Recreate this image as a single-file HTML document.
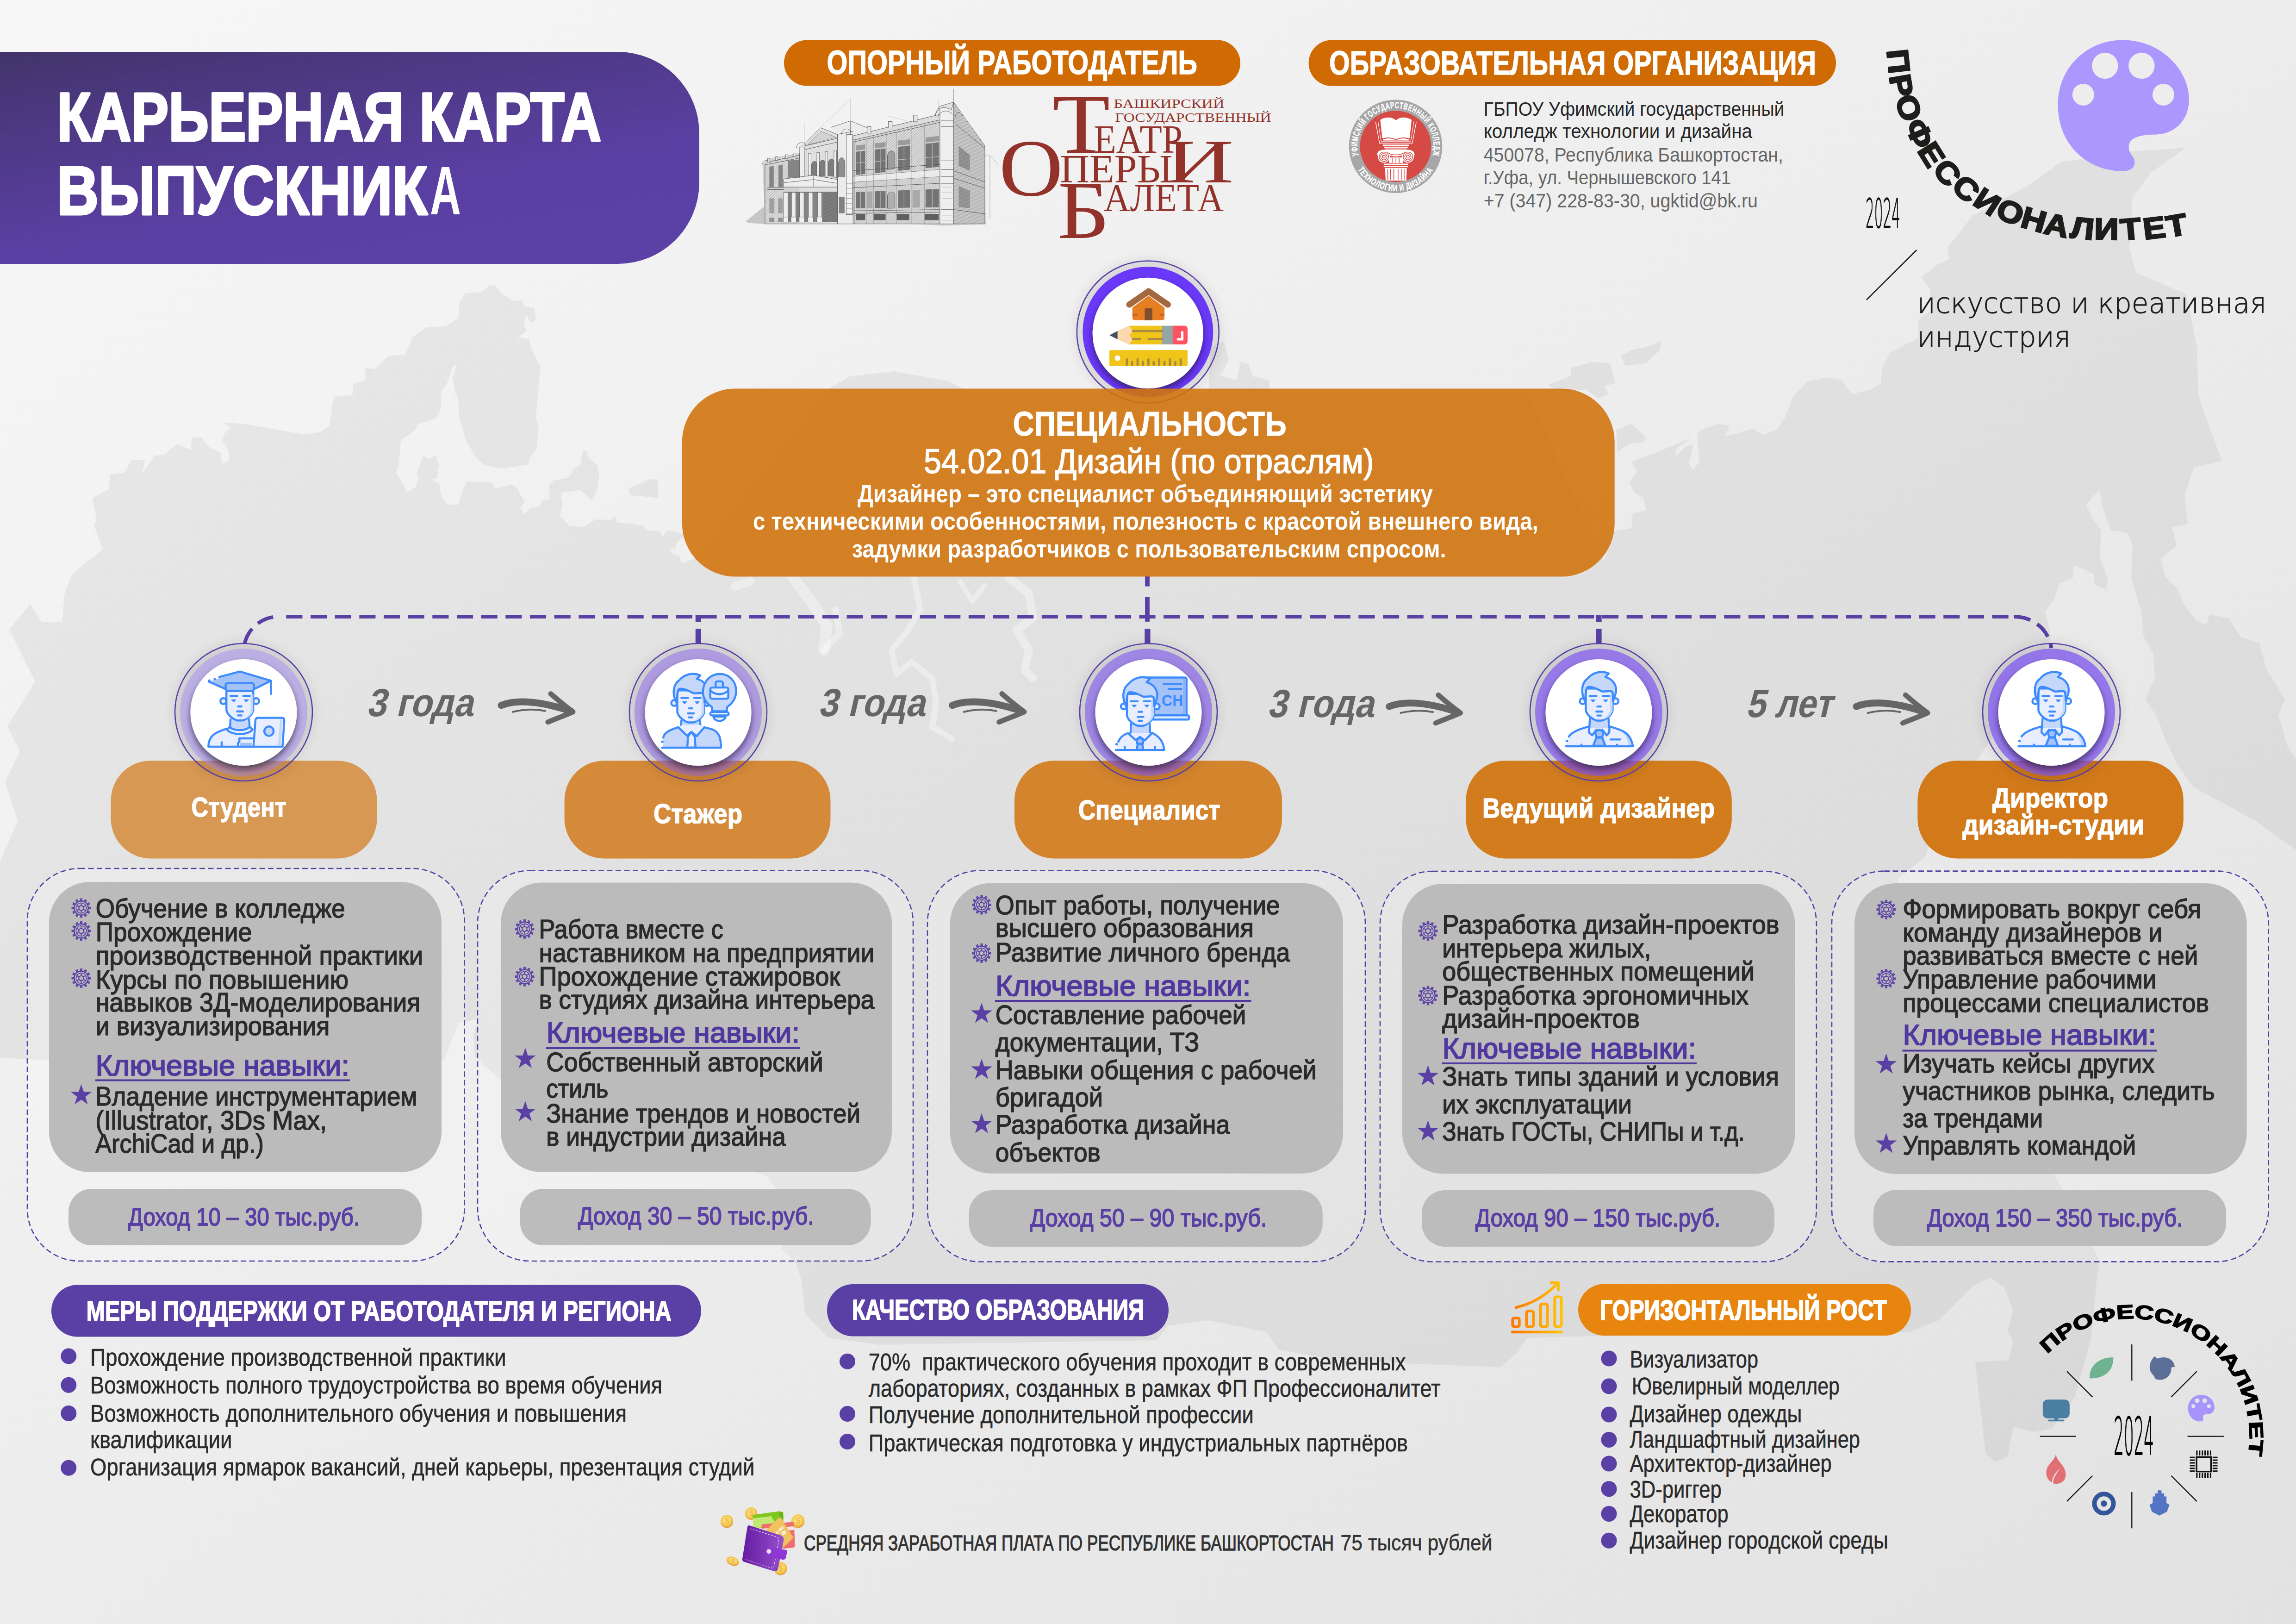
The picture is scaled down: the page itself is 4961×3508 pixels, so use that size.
<!DOCTYPE html>
<html lang="ru"><head><meta charset="utf-8"><title>Карьерная карта выпускника</title>
<style>
html,body{margin:0;padding:0;background:#ececec;}
body{width:4961px;height:3508px;overflow:hidden;}
svg{display:block;font-family:"Liberation Sans", sans-serif;}
text{white-space:pre;}
</style></head><body>
<svg width="4961" height="3508" viewBox="0 0 4961 3508">
<defs>
<linearGradient id="bg" x1="0" y1="0" x2="1" y2="1"><stop offset="0" stop-color="#f7f7f7"/><stop offset="1" stop-color="#e2e2e2"/></linearGradient>
<linearGradient id="ttl" x1="0" y1="0" x2="0.55" y2="1"><stop offset="0" stop-color="#41346a"/><stop offset="0.25" stop-color="#4b3880"/><stop offset="0.7" stop-color="#593fa0"/><stop offset="1" stop-color="#5b40a6"/></linearGradient>
<filter id="sh" x="-30%" y="-30%" width="160%" height="160%"><feDropShadow dx="0" dy="8" stdDeviation="6.5" flood-color="#1a0830" flood-opacity="0.62"/></filter>
<filter id="glow" x="-30%" y="-30%" width="160%" height="160%"><feGaussianBlur stdDeviation="10"/></filter>
</defs>
<rect width="4961" height="3508" fill="url(#bg)"/>
<path d="M0 2285 L0 1861 L38 1774 L11 1688 L43 1623 L16 1569 L76 1472 L20 1360 L65 1305 L91 1344 L134 1344 L140 1279 L157 1239 L189 1213 L222 1187 L203 1135 L209 1122 L199 1076 L235 1057 L238 1024 L268 1021 L284 994 L314 994 L307 1024 L333 985 L356 981 L382 959 L412 972 L415 945 L436 945 L451 965 L477 978 L480 1001 L495 994 L493 972 L480 952 L487 932 L500 925 L483 913 L523 915 L588 926 L653 938 L692 934 L712 919 L719 867 L725 855 L761 854 L764 829 L790 821 L789 794 L810 798 L839 769 L875 766 L892 727 L921 707 L964 705 L990 687 L993 651 L1006 633 L1039 631 L1058 616 L1071 617 L1084 635 L1111 651 L1129 648 L1133 663 L1155 665 L1158 691 L1147 698 L1137 681 L1132 700 L1138 715 L1120 728 L1143 733 L1149 756 L1168 792 L1163 847 L1158 900 L1164 926 L1160 968 L1147 985 L1140 1004 L1084 1012 L1045 1004 L1026 985 L1006 949 L992 900 L990 861 L983 847 L978 818 L986 789 L979 790 L966 828 L954 844 L953 883 L941 905 L902 916 L898 929 L866 951 L862 1004 L856 1021 L872 1047 L879 1063 L898 1053 L905 1030 L900 1024 L915 985 L928 991 L941 983 L949 1004 L944 1034 L931 1036 L949 1045 L955 1076 L967 1090 L990 1090 L1000 1057 L1009 1040 L1062 1042 L1071 1055 L1107 1047 L1120 1057 L1124 1070 L1135 1083 L1124 1097 L1132 1110 L1147 1097 L1166 1094 L1173 1079 L1188 1079 L1186 1047 L1196 1038 L1228 1032 L1241 1011 L1254 1004 L1258 975 L1267 972 L1271 988 L1290 1004 L1295 1027 L1290 1057 L1279 1081 L1254 1058 L1215 1064 L1212 1076 L1216 1090 L1210 1115 L1231 1136 L1261 1138 L1287 1122 L1320 1123 L1329 1114 L1333 1128 L1392 1135 L1395 1145 L1427 1148 L1431 1161 L1441 1145 L1483 1155 L1463 1171 L1460 1184 L1447 1187 L1454 1197 L1467 1199 L1473 1217 L1500 1207 L1793 838 L1836 813 L1933 802 L2052 824 L2100 850 L2612 850 L2615 750 L2645 738 L2655 778 L2637 812 L2672 821 L2680 782 L2698 786 L2706 812 L2741 821 L2745 850 L3300 850 L3466 1213 L3485 1148 L3525 1141 L3528 1109 L3557 1102 L3551 1076 L3531 1063 L3521 1043 L3538 1017 L3525 998 L3577 978 L3623 959 L3655 945 L3623 968 L3619 988 L3642 965 L3659 959 L3649 1004 L3659 1014 L3672 998 L3667 939 L3675 929 L3711 916 L3737 919 L3727 942 L3753 936 L3786 926 L3809 939 L3838 929 L3858 900 L3874 857 L3904 825 L3949 815 L3979 821 L4002 851 L4041 842 L4064 828 L4067 795 L4083 763 L4119 743 L4145 730 L4145 691 L4171 671 L4171 625 L4152 599 L4184 573 L4211 560 L4208 535 L4262 466 L4377 404 L4454 350 L4608 327 L4724 319 L4647 373 L4608 427 L4601 535 L4616 589 L4724 635 L4747 750 L4750 854 L4774 922 L4801 996 L4740 1010 L4720 1071 L4727 1132 L4693 1139 L4703 1179 L4669 1206 L4679 1247 L4706 1274 L4720 1308 L4747 1342 L4767 1349 L4774 1328 L4815 1335 L4842 1376 L4882 1389 L4896 1443 L4937 1511 L4923 1545 L4943 1613 L4961 1640 L4961 1836 L4876 1775 L4815 1741 L4740 1701 L4706 1653 L4679 1599 L4659 1545 L4635 1511 L4656 1464 L4652 1410 L4632 1376 L4625 1315 L4605 1247 L4608 1179 L4598 1152 L4561 1145 L4544 1098 L4537 1057 L4507 1091 L4524 1125 L4540 1145 L4537 1206 L4554 1247 L4551 1274 L4524 1261 L4524 1240 L4480 1220 L4480 1247 L4449 1261 L4439 1294 L4419 1321 L4432 1376 L4400 1450 L4300 1600 L4200 1750 L4160 1850 L4100 1900 L4536 2720 L4529 2780 L4518 2891 L4483 3017 L4434 3085 L4395 3093 L4350 3082 L4338 3147 L4311 3158 L4290 3138 L4279 3042 L4268 2942 L4340 2938 L4350 2898 L4338 2875 L4350 2830 L4330 2780 L4300 2760 L4265 2776 L4189 2852 L4126 2877 L3393 2887 L3299 2890 L3280 2921 L3242 2953 L3052 2946 L2863 2934 L2762 2915 L2737 2877 L2610 2852 L2522 2864 L2500 2895 L1900 2905 L1790 2890 L1740 2839 L1731 2763 L1719 2727 L1690 2698 L1684 2575 L1655 2540 L1400 2450 L1100 2350 L1026 2283 L1023 2230 L1035 2200 L990 2210 L960 2290 L500 2310 L100 2290 Z M1356 1057 L1405 1034 L1421 1037 L1423 1076 L1398 1073 L1365 1070 Z M3502 769 L3525 756 L3570 746 L3590 736 L3587 756 L3557 785 L3512 790 Z M3345 831 L3394 812 L3394 795 L3440 782 L3479 785 L3491 828 L3466 834 L3476 851 L3453 861 L3427 841 L3381 847 L3361 841 Z M3492 929 L3525 916 L3557 945 L3551 955 L3518 959 L3495 978 Z" fill="#000" fill-opacity="0.052" fill-rule="evenodd"/><g fill="none" stroke="#fff" stroke-opacity="0.36" stroke-linecap="round" stroke-linejoin="round"><path d="M1713 1246 L1753 1300 L1787 1352 L1780 1404" stroke-width="24"/><path d="M1780 1404 L1814 1369 L1805 1317" stroke-width="14"/><path d="M1975 1247 L1988 1317 L1962 1361 L1927 1404 L1936 1456 L1970 1430 L2014 1465 L2023 1517 L2014 1570 L2057 1596" stroke-width="13"/><path d="M2179 1247 L2223 1282 L2232 1335 L2197 1361 L2223 1404 L2214 1448 L2232 1465" stroke-width="18"/><path d="M2075 1256 L2101 1300 L2127 1265" stroke-width="11"/><path d="M1587 1267 L1622 1256" stroke-width="18"/></g>
<path d="M0 112 H1335 A176 176 0 0 1 1511 288 V394 A176 176 0 0 1 1335 570 H0 Z" fill="url(#ttl)"/>
<text x="123.0" y="303.6" font-size="148.0" textLength="1176.0" lengthAdjust="spacingAndGlyphs" font-weight="700" fill="#fff" stroke="#fff" stroke-width="5" stroke-linejoin="round">КАРЬЕРНАЯ КАРТА</text>
<text x="123.0" y="463.0" font-size="148.0" textLength="800.5" lengthAdjust="spacingAndGlyphs" font-weight="700" fill="#fff" stroke="#fff" stroke-width="5" stroke-linejoin="round">ВЫПУСКНИК</text>
<text x="929.0" y="463.0" font-size="148.0" textLength="67.0" lengthAdjust="spacingAndGlyphs" font-weight="700" fill="#fff">А</text>
<rect x="1694.0" y="86.6" width="986.0" height="98.8" rx="49.4" fill="#d06a03" />
<text x="1786.6" y="159.8" font-size="73.0" textLength="800.4" lengthAdjust="spacingAndGlyphs" font-weight="700" fill="#fff" stroke="#fff" stroke-width="1.5" stroke-linejoin="round">ОПОРНЫЙ РАБОТОДАТЕЛЬ</text>
<rect x="2827.6" y="86.5" width="1139.4" height="99.3" rx="49.6" fill="#d06a03" />
<text x="2872.0" y="160.5" font-size="73.0" textLength="1052.0" lengthAdjust="spacingAndGlyphs" font-weight="700" fill="#fff" stroke="#fff" stroke-width="1.5" stroke-linejoin="round">ОБРАЗОВАТЕЛЬНАЯ ОРГАНИЗАЦИЯ</text>
<g transform="translate(1580,180) scale(0.27)"><defs><pattern id="hat" width="9" height="9" patternUnits="userSpaceOnUse" patternTransform="rotate(-45)"><rect width="9" height="9" fill="none"/><rect width="9" height="3.2" fill="#555" fill-opacity="0.55"/></pattern><pattern id="hat2" width="7" height="7" patternUnits="userSpaceOnUse" patternTransform="rotate(-50)"><rect width="7" height="3.4" fill="#444" fill-opacity="0.7"/></pattern></defs><polygon points="115,1105 270,980 270,1125 140,1118" fill="#999" fill-opacity="0.5"/><polygon points="1450,1125 1700,1095 2035,1125 1700,1140" fill="#999" fill-opacity="0.35"/><polygon points="250,645 300,600 545,558 545,1125 270,1125" fill="#e6e6e6" /><polygon points="545,500 590,480 715,355 850,408 850,1125 545,1125" fill="#e9e9e9" /><polygon points="800,352 955,300 1085,355 1085,400 975,430 975,1125 850,1125 850,408" fill="#ececec" /><polygon points="975,430 1670,292 1670,1125 975,1125" fill="#e4e4e4" /><polygon points="1670,200 1700,170 1780,150 1780,1125 1670,1125" fill="#efefef" /><polygon points="1780,150 1830,230 2030,500 2035,1125 1780,1125" fill="#d9d9d9" /><polygon points="250,645 300,600 545,558 545,1125 270,1125" fill="url(#hat)" fill-opacity="0.72"/><polygon points="975,430 1670,292 1670,1125 975,1125" fill="url(#hat)" fill-opacity="0.72"/><polygon points="1780,150 1830,230 2030,500 2035,1125 1780,1125" fill="url(#hat2)" fill-opacity="0.5"/><polygon points="545,500 590,480 715,355 850,408 850,1125 545,1125" fill="url(#hat)" fill-opacity="0.35"/><polygon points="975,420 1660,250 1660,292 975,455" fill="#dcdcdc" /><path d="M975 420 L1660 250 M975 455 L1670 292 M975 470 L1670 312" stroke="#4a4a4a" stroke-width="3.2" fill="none" stroke-linejoin="round"/><rect x="1088" y="347" width="30" height="52" fill="#e8e8e8" stroke="#4a4a4a" stroke-width="3"/><rect x="1258" y="305" width="30" height="52" fill="#e8e8e8" stroke="#4a4a4a" stroke-width="3"/><rect x="1458" y="255" width="30" height="52" fill="#e8e8e8" stroke="#4a4a4a" stroke-width="3"/><path d="M1630 262 C1640 200 1700 170 1760 215 L1780 150 L1665 185 Z" fill="#e2e2e2" stroke="#4a4a4a" stroke-width="3"/><path d="M1655 270 C1670 215 1740 205 1770 250" stroke="#4a4a4a" stroke-width="3.2" fill="none" stroke-linejoin="round"/><path d="M1790 280 C1795 230 1830 215 1850 260" stroke="#4a4a4a" stroke-width="3.2" fill="none" stroke-linejoin="round"/><path d="M1780 45 V150" stroke="#555" stroke-width="2"/><path d="M975 700 L1670 648" stroke="#4a4a4a" stroke-width="3.2" fill="none" stroke-linejoin="round"/><path d="M975 745 L1670 690" stroke="#4a4a4a" stroke-width="3.2" fill="none" stroke-linejoin="round"/><path d="M975 790 L1670 745" stroke="#4a4a4a" stroke-width="3.2" fill="none" stroke-linejoin="round"/><path d="M975 835 L1670 800" stroke="#4a4a4a" stroke-width="3.2" fill="none" stroke-linejoin="round"/><path d="M975 1020 L1670 1010" stroke="#4a4a4a" stroke-width="3.2" fill="none" stroke-linejoin="round"/><path d="M975 1040 L1670 1030" stroke="#4a4a4a" stroke-width="3.2" fill="none" stroke-linejoin="round"/><polygon points="975,745 1670,690 1670,745 975,790" fill="#f1f1f1" fill-opacity="0.8"/><polygon points="1000,547.1223021582734 1072,538.8345323741007 1072,725.6489208633094 1000,732.589928057554" fill="#5a5a5a" fill-opacity="0.78"/><polygon points="1000,497.1223021582734 1072,488.8345323741007 1072,528.8345323741007 1000,537.1223021582734" fill="#777" fill-opacity="0.6"/><path d="M1036.0 543 V729 M1000 638 L1072 632" stroke="#ddd" stroke-width="3"/><polygon points="1150,529.8561151079136 1235,520.0719424460432 1235,709.9352517985611 1150,718.1294964028777" fill="#5a5a5a" fill-opacity="0.78"/><polygon points="1150,479.8561151079137 1235,470.0719424460432 1235,510.0719424460432 1150,519.8561151079136" fill="#777" fill-opacity="0.6"/><path d="M1192.5 525 V714 M1150 626 L1235 619" stroke="#ddd" stroke-width="3"/><polygon points="1335,508.5611510791367 1430,497.62589928057554 1430,691.136690647482 1335,700.294964028777" fill="#5a5a5a" fill-opacity="0.78"/><polygon points="1335,458.5611510791367 1430,447.62589928057554 1430,487.62589928057554 1335,498.5611510791367" fill="#777" fill-opacity="0.6"/><path d="M1382.5 503 V696 M1335 612 L1430 604" stroke="#ddd" stroke-width="3"/><polygon points="1555,483.23741007194246 1662,470.9208633093525 1662,668.7712230215827 1555,679.0863309352518" fill="#5a5a5a" fill-opacity="0.78"/><polygon points="1555,433.23741007194246 1662,420.9208633093525 1662,460.9208633093525 1555,473.23741007194246" fill="#777" fill-opacity="0.6"/><path d="M1608.5 477 V674 M1555 594 L1662 586" stroke="#ddd" stroke-width="3"/><path d="M1250 690 V580 C1255 530 1305 525 1310 575 V682 Z" fill="#888" fill-opacity="0.7" stroke="#4a4a4a" stroke-width="3"/><polygon points="1000,869.1007194244604 1072,866.5107913669065 1072,998.8834532374101 1000,999.7122302158274" fill="#555" fill-opacity="0.75"/><path d="M1036.0 868 V999" stroke="#ddd" stroke-width="3"/><polygon points="1150,863.705035971223 1235,860.6474820143885 1235,997.0071942446043 1150,997.9856115107914" fill="#555" fill-opacity="0.75"/><path d="M1192.5 862 V997" stroke="#ddd" stroke-width="3"/><polygon points="1335,857.0503597122303 1430,853.6330935251799 1430,994.7625899280575 1335,995.8561151079136" fill="#555" fill-opacity="0.75"/><path d="M1382.5 855 V995" stroke="#ddd" stroke-width="3"/><polygon points="1555,849.136690647482 1662,845.2877697841726 1662,992.0920863309352 1555,993.3237410071943" fill="#555" fill-opacity="0.75"/><path d="M1608.5 847 V993" stroke="#ddd" stroke-width="3"/><path d="M1250 1000 V900 C1255 860 1305 858 1310 895 V998 Z" fill="#999" fill-opacity="0.6" stroke="#4a4a4a" stroke-width="3"/><polygon points="1085,866.043165467626 1130,864.4244604316547 1130,998.2158273381295 1085,998.7338129496403" fill="#888" fill-opacity="0.55"/><polygon points="1450,852.9136690647482 1510,850.7553956834532 1510,993.841726618705 1450,994.5323741007194" fill="#888" fill-opacity="0.55"/><rect x="1000" y="1045" width="72" height="50" fill="#444" fill-opacity="0.8"/><rect x="1140" y="1045" width="95" height="50" fill="#444" fill-opacity="0.8"/><rect x="1325" y="1045" width="100" height="50" fill="#444" fill-opacity="0.8"/><rect x="1548" y="1045" width="112" height="50" fill="#444" fill-opacity="0.8"/><path d="M985 468 V1125" stroke="#555" stroke-width="2" fill="none"/><path d="M1080 446 V1125" stroke="#555" stroke-width="2" fill="none"/><path d="M1140 432 V1125" stroke="#555" stroke-width="2" fill="none"/><path d="M1240 410 V1125" stroke="#555" stroke-width="2" fill="none"/><path d="M1320 392 V1125" stroke="#555" stroke-width="2" fill="none"/><path d="M1440 364 V1125" stroke="#555" stroke-width="2" fill="none"/><path d="M1545 340 V1125" stroke="#555" stroke-width="2" fill="none"/><path d="M1670 200 V1125 M1780 150 V1125 M1680 300 H1775 M1680 345 H1775 M1680 620 H1778 M1680 690 H1778 M1680 745 H1778 M1680 800 H1778 M1680 1010 H1778" stroke="#4a4a4a" stroke-width="3.2" fill="none" stroke-linejoin="round"/><path d="M1690 830 H1770" stroke="#888" stroke-width="2"/><path d="M1690 875 H1770" stroke="#888" stroke-width="2"/><path d="M1690 920 H1770" stroke="#888" stroke-width="2"/><path d="M1690 965 H1770" stroke="#888" stroke-width="2"/><path d="M1690 1010 H1770" stroke="#888" stroke-width="2"/><path d="M1690 1055 H1770" stroke="#888" stroke-width="2"/><path d="M1690 1100 H1770" stroke="#888" stroke-width="2"/><polygon points="1820,500 1910,575 1910,700 1820,660" fill="#666" fill-opacity="0.55"/><polygon points="1820,820 1910,860 1910,1000 1820,990" fill="#666" fill-opacity="0.5"/><path d="M1780 700 L2032 790 M1780 760 L2032 840 M1780 1010 L2034 1045 M1780 150 L2030 500 V1125 M1800 330 L2030 520" stroke="#4a4a4a" stroke-width="3.2" fill="none" stroke-linejoin="round"/><path d="M2030 580 H2075 L2145 660 M2070 580 V1080" stroke="#777" stroke-width="2" fill="none"/><path d="M800 352 L955 300 L1085 355 M955 300 V420 M850 408 L975 385" stroke="#4a4a4a" stroke-width="3.2" fill="none" stroke-linejoin="round"/><path d="M882 408 C885 355 950 350 958 395" stroke="#4a4a4a" stroke-width="3.2" fill="none" stroke-linejoin="round"/><rect x="920" y="410" width="50" height="640" fill="#f2f2f2" stroke="#4a4a4a" stroke-width="3"/><path d="M858 750 V640 C862 580 905 580 910 640 V750 Z" fill="#666" fill-opacity="0.7" stroke="#4a4a4a" stroke-width="3"/><rect x="862" y="910" width="45" height="130" fill="#555" fill-opacity="0.7"/><path d="M920 800 H970" stroke="#777" stroke-width="2.5"/><path d="M920 840 H970" stroke="#777" stroke-width="2.5"/><path d="M920 880 H970" stroke="#777" stroke-width="2.5"/><path d="M920 920 H970" stroke="#777" stroke-width="2.5"/><path d="M920 960 H970" stroke="#777" stroke-width="2.5"/><path d="M920 1000 H970" stroke="#777" stroke-width="2.5"/><path d="M920 1040 H970" stroke="#777" stroke-width="2.5"/><path d="M590 480 L715 355 L850 408 M612 490 L718 385 L838 432 Z" stroke="#4a4a4a" stroke-width="3.2" fill="none" stroke-linejoin="round"/><polygon points="612,490 718,385 838,432" fill="#cfcfcf" fill-opacity="0.8"/><path d="M590 480 V760 M590 500 L850 440 M590 530 L850 470" stroke="#4a4a4a" stroke-width="3.2" fill="none" stroke-linejoin="round"/><path d="M640 740 V660 C645 615 685 612 690 655 V745 Z" fill="#5c5c5c" fill-opacity="0.75" stroke="#4a4a4a" stroke-width="2.5"/><path d="M705 740 V650 C710 605 750 602 755 645 V745 Z" fill="#5c5c5c" fill-opacity="0.75" stroke="#4a4a4a" stroke-width="2.5"/><path d="M775 740 V640 C780 595 820 592 825 635 V745 Z" fill="#5c5c5c" fill-opacity="0.75" stroke="#4a4a4a" stroke-width="2.5"/><rect x="618" y="560" width="20" height="195" fill="#f0f0f0" stroke="#4a4a4a" stroke-width="2.5"/><rect x="685" y="553" width="20" height="202" fill="#f0f0f0" stroke="#4a4a4a" stroke-width="2.5"/><rect x="752" y="547" width="20" height="208" fill="#f0f0f0" stroke="#4a4a4a" stroke-width="2.5"/><rect x="822" y="540" width="20" height="215" fill="#f0f0f0" stroke="#4a4a4a" stroke-width="2.5"/><rect x="548" y="510" width="36" height="240" fill="#eee" stroke="#4a4a4a" stroke-width="3"/><path d="M520 520 C525 470 580 460 600 495" stroke="#4a4a4a" stroke-width="3.2" fill="none" stroke-linejoin="round"/><polygon points="420,765 660,735 850,770 850,830 420,830" fill="#ededed" /><path d="M420 765 L660 735 L850 770 M420 795 L660 770 L850 800 M420 830 H850 M420 765 V830 M660 735 V830 M420 870 H850" stroke="#4a4a4a" stroke-width="3.2" fill="none" stroke-linejoin="round"/><polygon points="420,870 850,870 850,1110 420,1110" fill="#4e4e4e" fill-opacity="0.62"/><rect x="420" y="872" width="34" height="238" fill="#ededed" stroke="#4a4a4a" stroke-width="2.5"/><rect x="416" y="1070" width="42" height="40" fill="#f2f2f2" stroke="#4a4a4a" stroke-width="2.5"/><rect x="482" y="872" width="34" height="238" fill="#ededed" stroke="#4a4a4a" stroke-width="2.5"/><rect x="478" y="1070" width="42" height="40" fill="#f2f2f2" stroke="#4a4a4a" stroke-width="2.5"/><rect x="548" y="872" width="34" height="238" fill="#ededed" stroke="#4a4a4a" stroke-width="2.5"/><rect x="544" y="1070" width="42" height="40" fill="#f2f2f2" stroke="#4a4a4a" stroke-width="2.5"/><rect x="618" y="872" width="34" height="238" fill="#ededed" stroke="#4a4a4a" stroke-width="2.5"/><rect x="614" y="1070" width="42" height="40" fill="#f2f2f2" stroke="#4a4a4a" stroke-width="2.5"/><rect x="690" y="872" width="34" height="238" fill="#ededed" stroke="#4a4a4a" stroke-width="2.5"/><rect x="686" y="1070" width="42" height="40" fill="#f2f2f2" stroke="#4a4a4a" stroke-width="2.5"/><polygon points="735,880 850,880 850,1110 735,1110" fill="url(#hat2)" fill-opacity="0.5"/><path d="M250 645 C255 615 290 610 300 628 L545 575 M255 655 L545 598 M270 650 V1125 M290 850 H420 M290 835 H420" stroke="#4a4a4a" stroke-width="3.2" fill="none" stroke-linejoin="round"/><polygon points="305,668 340,660 340,830 305,830" fill="#5a5a5a" fill-opacity="0.65"/><polygon points="378,658 412,650 412,830 378,830" fill="#5a5a5a" fill-opacity="0.65"/><polygon points="455,618 545,610 545,755 455,755" fill="#5a5a5a" fill-opacity="0.65"/><rect x="305" y="920" width="40" height="120" fill="#777" fill-opacity="0.55"/><rect x="305" y="1075" width="40" height="35" fill="#666" fill-opacity="0.6"/><rect x="375" y="920" width="37" height="120" fill="#777" fill-opacity="0.55"/><rect x="375" y="1075" width="37" height="35" fill="#666" fill-opacity="0.6"/><rect x="290" y="600" width="18" height="30" fill="#e8e8e8" stroke="#4a4a4a" stroke-width="2.5"/><rect x="355" y="587" width="18" height="30" fill="#e8e8e8" stroke="#4a4a4a" stroke-width="2.5"/><rect x="435" y="571" width="18" height="30" fill="#e8e8e8" stroke="#4a4a4a" stroke-width="2.5"/><rect x="500" y="558" width="18" height="30" fill="#e8e8e8" stroke="#4a4a4a" stroke-width="2.5"/><path d="M270 1125 H2035 M850 408 V1125 M975 430 V1125 M545 558 V760" stroke="#4a4a4a" stroke-width="3.2" fill="none" stroke-linejoin="round"/><path d="M715 355 L955 122 M585 320 V480 M955 120 V300 M1660 130 V250 M1250 260 L1400 300" stroke="#777" stroke-width="1.6" fill="none" stroke-opacity="0.8"/></g><g transform="translate(2150,190) scale(0.27)" fill="#93322a" font-family='"Liberation Serif", serif'><text x="950" y="160" font-size="99" textLength="885" lengthAdjust="spacingAndGlyphs" fill="#93322a">БАШКИРСКИЙ</text><text x="960" y="270" font-size="99" textLength="1250" lengthAdjust="spacingAndGlyphs" fill="#93322a">ГОСУДАРСТВЕННЫЙ</text><text x="460" y="520" font-size="679" textLength="460" lengthAdjust="spacingAndGlyphs" fill="#93322a">Т</text><text x="790" y="520" font-size="320" textLength="710" lengthAdjust="spacingAndGlyphs" fill="#93322a">ЕАТР</text><text x="32" y="860" font-size="650" textLength="513" lengthAdjust="spacingAndGlyphs" fill="#93322a">О</text><text x="520" y="755" font-size="320" textLength="900" lengthAdjust="spacingAndGlyphs" fill="#93322a">ПЕРЫ</text><text x="1362" y="755" font-size="496" textLength="550" lengthAdjust="spacingAndGlyphs" fill="#93322a">И</text><text x="498" y="1200" font-size="656" textLength="420" lengthAdjust="spacingAndGlyphs" fill="#93322a">Б</text><text x="870" y="985" font-size="313" textLength="960" lengthAdjust="spacingAndGlyphs" fill="#93322a">АЛЕТА</text></g>
<circle cx="3015.5" cy="316.2" r="100.8" fill="#a7a7a7"/><circle cx="3015.5" cy="316.2" r="77" fill="#d64a45"/><text transform="translate(3015.5,316.2) rotate(-101.07) translate(0,-82.3) scale(0.62,1)" text-anchor="middle" font-size="19.5" font-weight="700" fill="#fff" stroke="#fff" stroke-width="0.5">У</text><text transform="translate(3015.5,316.2) rotate(-94.12) translate(0,-82.3) scale(0.62,1)" text-anchor="middle" font-size="19.5" font-weight="700" fill="#fff" stroke="#fff" stroke-width="0.5">Ф</text><text transform="translate(3015.5,316.2) rotate(-86.72) translate(0,-82.3) scale(0.62,1)" text-anchor="middle" font-size="19.5" font-weight="700" fill="#fff" stroke="#fff" stroke-width="0.5">И</text><text transform="translate(3015.5,316.2) rotate(-79.41) translate(0,-82.3) scale(0.62,1)" text-anchor="middle" font-size="19.5" font-weight="700" fill="#fff" stroke="#fff" stroke-width="0.5">М</text><text transform="translate(3015.5,316.2) rotate(-72.08) translate(0,-82.3) scale(0.62,1)" text-anchor="middle" font-size="19.5" font-weight="700" fill="#fff" stroke="#fff" stroke-width="0.5">С</text><text transform="translate(3015.5,316.2) rotate(-65.81) translate(0,-82.3) scale(0.62,1)" text-anchor="middle" font-size="19.5" font-weight="700" fill="#fff" stroke="#fff" stroke-width="0.5">К</text><text transform="translate(3015.5,316.2) rotate(-59.55) translate(0,-82.3) scale(0.62,1)" text-anchor="middle" font-size="19.5" font-weight="700" fill="#fff" stroke="#fff" stroke-width="0.5">И</text><text transform="translate(3015.5,316.2) rotate(-52.78) translate(0,-82.3) scale(0.62,1)" text-anchor="middle" font-size="19.5" font-weight="700" fill="#fff" stroke="#fff" stroke-width="0.5">Й</text><text transform="translate(3015.5,316.2) rotate(-44.11) translate(0,-82.3) scale(0.62,1)" text-anchor="middle" font-size="19.5" font-weight="700" fill="#fff" stroke="#fff" stroke-width="0.5">Г</text><text transform="translate(3015.5,316.2) rotate(-37.77) translate(0,-82.3) scale(0.62,1)" text-anchor="middle" font-size="19.5" font-weight="700" fill="#fff" stroke="#fff" stroke-width="0.5">О</text><text transform="translate(3015.5,316.2) rotate(-30.71) translate(0,-82.3) scale(0.62,1)" text-anchor="middle" font-size="19.5" font-weight="700" fill="#fff" stroke="#fff" stroke-width="0.5">С</text><text transform="translate(3015.5,316.2) rotate(-24.38) translate(0,-82.3) scale(0.62,1)" text-anchor="middle" font-size="19.5" font-weight="700" fill="#fff" stroke="#fff" stroke-width="0.5">У</text><text transform="translate(3015.5,316.2) rotate(-18.09) translate(0,-82.3) scale(0.62,1)" text-anchor="middle" font-size="19.5" font-weight="700" fill="#fff" stroke="#fff" stroke-width="0.5">Д</text><text transform="translate(3015.5,316.2) rotate(-11.34) translate(0,-82.3) scale(0.62,1)" text-anchor="middle" font-size="19.5" font-weight="700" fill="#fff" stroke="#fff" stroke-width="0.5">А</text><text transform="translate(3015.5,316.2) rotate(-4.79) translate(0,-82.3) scale(0.62,1)" text-anchor="middle" font-size="19.5" font-weight="700" fill="#fff" stroke="#fff" stroke-width="0.5">Р</text><text transform="translate(3015.5,316.2) rotate(1.75) translate(0,-82.3) scale(0.62,1)" text-anchor="middle" font-size="19.5" font-weight="700" fill="#fff" stroke="#fff" stroke-width="0.5">С</text><text transform="translate(3015.5,316.2) rotate(8.03) translate(0,-82.3) scale(0.62,1)" text-anchor="middle" font-size="19.5" font-weight="700" fill="#fff" stroke="#fff" stroke-width="0.5">Т</text><text transform="translate(3015.5,316.2) rotate(14.30) translate(0,-82.3) scale(0.62,1)" text-anchor="middle" font-size="19.5" font-weight="700" fill="#fff" stroke="#fff" stroke-width="0.5">В</text><text transform="translate(3015.5,316.2) rotate(20.85) translate(0,-82.3) scale(0.62,1)" text-anchor="middle" font-size="19.5" font-weight="700" fill="#fff" stroke="#fff" stroke-width="0.5">Е</text><text transform="translate(3015.5,316.2) rotate(27.39) translate(0,-82.3) scale(0.62,1)" text-anchor="middle" font-size="19.5" font-weight="700" fill="#fff" stroke="#fff" stroke-width="0.5">Н</text><text transform="translate(3015.5,316.2) rotate(34.19) translate(0,-82.3) scale(0.62,1)" text-anchor="middle" font-size="19.5" font-weight="700" fill="#fff" stroke="#fff" stroke-width="0.5">Н</text><text transform="translate(3015.5,316.2) rotate(42.20) translate(0,-82.3) scale(0.62,1)" text-anchor="middle" font-size="19.5" font-weight="700" fill="#fff" stroke="#fff" stroke-width="0.5">Ы</text><text transform="translate(3015.5,316.2) rotate(50.20) translate(0,-82.3) scale(0.62,1)" text-anchor="middle" font-size="19.5" font-weight="700" fill="#fff" stroke="#fff" stroke-width="0.5">Й</text><text transform="translate(3015.5,316.2) rotate(59.07) translate(0,-82.3) scale(0.62,1)" text-anchor="middle" font-size="19.5" font-weight="700" fill="#fff" stroke="#fff" stroke-width="0.5">К</text><text transform="translate(3015.5,316.2) rotate(65.61) translate(0,-82.3) scale(0.62,1)" text-anchor="middle" font-size="19.5" font-weight="700" fill="#fff" stroke="#fff" stroke-width="0.5">О</text><text transform="translate(3015.5,316.2) rotate(72.58) translate(0,-82.3) scale(0.62,1)" text-anchor="middle" font-size="19.5" font-weight="700" fill="#fff" stroke="#fff" stroke-width="0.5">Л</text><text transform="translate(3015.5,316.2) rotate(79.19) translate(0,-82.3) scale(0.62,1)" text-anchor="middle" font-size="19.5" font-weight="700" fill="#fff" stroke="#fff" stroke-width="0.5">Л</text><text transform="translate(3015.5,316.2) rotate(85.64) translate(0,-82.3) scale(0.62,1)" text-anchor="middle" font-size="19.5" font-weight="700" fill="#fff" stroke="#fff" stroke-width="0.5">Е</text><text transform="translate(3015.5,316.2) rotate(92.13) translate(0,-82.3) scale(0.62,1)" text-anchor="middle" font-size="19.5" font-weight="700" fill="#fff" stroke="#fff" stroke-width="0.5">Д</text><text transform="translate(3015.5,316.2) rotate(99.74) translate(0,-82.3) scale(0.62,1)" text-anchor="middle" font-size="19.5" font-weight="700" fill="#fff" stroke="#fff" stroke-width="0.5">Ж</text><text transform="translate(3015.5,316.2) rotate(56.28) translate(0,96.3) scale(0.68,1)" text-anchor="middle" font-size="19.5" font-weight="700" fill="#fff" stroke="#fff" stroke-width="0.5">Т</text><text transform="translate(3015.5,316.2) rotate(50.60) translate(0,96.3) scale(0.68,1)" text-anchor="middle" font-size="19.5" font-weight="700" fill="#fff" stroke="#fff" stroke-width="0.5">Е</text><text transform="translate(3015.5,316.2) rotate(44.66) translate(0,96.3) scale(0.68,1)" text-anchor="middle" font-size="19.5" font-weight="700" fill="#fff" stroke="#fff" stroke-width="0.5">Х</text><text transform="translate(3015.5,316.2) rotate(38.48) translate(0,96.3) scale(0.68,1)" text-anchor="middle" font-size="19.5" font-weight="700" fill="#fff" stroke="#fff" stroke-width="0.5">Н</text><text transform="translate(3015.5,316.2) rotate(31.80) translate(0,96.3) scale(0.68,1)" text-anchor="middle" font-size="19.5" font-weight="700" fill="#fff" stroke="#fff" stroke-width="0.5">О</text><text transform="translate(3015.5,316.2) rotate(25.22) translate(0,96.3) scale(0.68,1)" text-anchor="middle" font-size="19.5" font-weight="700" fill="#fff" stroke="#fff" stroke-width="0.5">Л</text><text transform="translate(3015.5,316.2) rotate(18.63) translate(0,96.3) scale(0.68,1)" text-anchor="middle" font-size="19.5" font-weight="700" fill="#fff" stroke="#fff" stroke-width="0.5">О</text><text transform="translate(3015.5,316.2) rotate(12.65) translate(0,96.3) scale(0.68,1)" text-anchor="middle" font-size="19.5" font-weight="700" fill="#fff" stroke="#fff" stroke-width="0.5">Г</text><text transform="translate(3015.5,316.2) rotate(6.93) translate(0,96.3) scale(0.68,1)" text-anchor="middle" font-size="19.5" font-weight="700" fill="#fff" stroke="#fff" stroke-width="0.5">И</text><text transform="translate(3015.5,316.2) rotate(0.53) translate(0,96.3) scale(0.68,1)" text-anchor="middle" font-size="19.5" font-weight="700" fill="#fff" stroke="#fff" stroke-width="0.5">И</text><text transform="translate(3015.5,316.2) rotate(-8.34) translate(0,96.3) scale(0.68,1)" text-anchor="middle" font-size="19.5" font-weight="700" fill="#fff" stroke="#fff" stroke-width="0.5">И</text><text transform="translate(3015.5,316.2) rotate(-17.18) translate(0,96.3) scale(0.68,1)" text-anchor="middle" font-size="19.5" font-weight="700" fill="#fff" stroke="#fff" stroke-width="0.5">Д</text><text transform="translate(3015.5,316.2) rotate(-23.55) translate(0,96.3) scale(0.68,1)" text-anchor="middle" font-size="19.5" font-weight="700" fill="#fff" stroke="#fff" stroke-width="0.5">И</text><text transform="translate(3015.5,316.2) rotate(-29.53) translate(0,96.3) scale(0.68,1)" text-anchor="middle" font-size="19.5" font-weight="700" fill="#fff" stroke="#fff" stroke-width="0.5">З</text><text transform="translate(3015.5,316.2) rotate(-35.53) translate(0,96.3) scale(0.68,1)" text-anchor="middle" font-size="19.5" font-weight="700" fill="#fff" stroke="#fff" stroke-width="0.5">А</text><text transform="translate(3015.5,316.2) rotate(-41.95) translate(0,96.3) scale(0.68,1)" text-anchor="middle" font-size="19.5" font-weight="700" fill="#fff" stroke="#fff" stroke-width="0.5">Й</text><text transform="translate(3015.5,316.2) rotate(-48.36) translate(0,96.3) scale(0.68,1)" text-anchor="middle" font-size="19.5" font-weight="700" fill="#fff" stroke="#fff" stroke-width="0.5">Н</text><text transform="translate(3015.5,316.2) rotate(-54.79) translate(0,96.3) scale(0.68,1)" text-anchor="middle" font-size="19.5" font-weight="700" fill="#fff" stroke="#fff" stroke-width="0.5">А</text><g transform="translate(2890,190) scale(0.15394)"><path d="M535 478 L590 775 H1050 L1105 478" fill="none" stroke="#fff" stroke-width="9" stroke-linejoin="miter"/><path d="M568 470 L612 748 H1028 L1072 470" fill="none" stroke="#fff" stroke-width="7"/><path d="M600 448 C680 395 785 410 820 458 V722 C770 690 690 688 628 708 Z M1040 448 C960 395 855 410 820 458 V722 C870 690 950 688 1012 708 Z" fill="#fff"/><path d="M640 722 C700 700 770 705 820 735 C870 705 940 700 1000 722 V738 H640 Z" fill="#fff"/><rect x="635" y="795" width="368" height="17" fill="#fff"/><rect x="650" y="824" width="338" height="15" fill="#fff"/><rect x="665" y="850" width="308" height="12" fill="#fff"/><path d="M558 945 C550 880 610 866 680 868 H958 C1030 866 1088 880 1080 945 L1030 960 C960 910 900 960 820 962 C740 960 680 910 610 960 Z" fill="#fff"/><circle cx="650" cy="965" r="84" fill="#fff"/><circle cx="650" cy="965" r="66" fill="none" stroke="#d64a45" stroke-width="9"/><circle cx="650" cy="965" r="44" fill="none" stroke="#d64a45" stroke-width="9"/><circle cx="650" cy="965" r="20" fill="none" stroke="#d64a45" stroke-width="9"/><circle cx="988" cy="965" r="84" fill="#fff"/><circle cx="988" cy="965" r="66" fill="none" stroke="#d64a45" stroke-width="9"/><circle cx="988" cy="965" r="44" fill="none" stroke="#d64a45" stroke-width="9"/><circle cx="988" cy="965" r="20" fill="none" stroke="#d64a45" stroke-width="9"/><path d="M700 905 C760 950 880 950 940 905" fill="none" stroke="#d64a45" stroke-width="10"/><rect x="722" y="975" width="196" height="78" fill="#fff"/><rect x="770" y="985" width="10" height="70" fill="#d64a45"/><rect x="815" y="985" width="10" height="70" fill="#d64a45"/><rect x="860" y="985" width="10" height="70" fill="#d64a45"/><rect x="648" y="1062" width="342" height="20" fill="#fff"/><rect x="648" y="1092" width="342" height="20" fill="#fff"/><path d="M668 1124 H972 L965 1300 H675 Z" fill="#fff"/><rect x="700" y="1136" width="10" height="150" fill="#d64a45"/><rect x="740" y="1136" width="10" height="150" fill="#d64a45"/><rect x="785" y="1136" width="10" height="150" fill="#d64a45"/><rect x="845" y="1136" width="10" height="150" fill="#d64a45"/><rect x="890" y="1136" width="10" height="150" fill="#d64a45"/><rect x="930" y="1136" width="10" height="150" fill="#d64a45"/></g>
<text x="3205.7" y="249.9" font-size="43.0" textLength="649.7" lengthAdjust="spacingAndGlyphs" fill="#262626">ГБПОУ Уфимский государственный</text>
<text x="3205.7" y="298.1" font-size="43.0" textLength="580.3" lengthAdjust="spacingAndGlyphs" fill="#262626">колледж технологии и дизайна</text>
<text x="3205.7" y="348.7" font-size="43.0" textLength="647.3" lengthAdjust="spacingAndGlyphs" fill="#666">450078, Республика Башкортостан,</text>
<text x="3205.7" y="398.0" font-size="43.0" textLength="534.3" lengthAdjust="spacingAndGlyphs" fill="#666">г.Уфа, ул. Чернышевского 141</text>
<text x="3205.7" y="447.5" font-size="43.0" textLength="592.3" lengthAdjust="spacingAndGlyphs" fill="#666">+7 (347) 228-83-30, ugktid@bk.ru</text>
<g transform="translate(3980,60) scale(0.4273)"><path fill-rule="evenodd" fill="#ab97fd" d="M1420 62 C1620 62 1755 220 1755 360 C1755 470 1680 540 1580 540 C1500 540 1450 560 1450 600 C1450 640 1480 650 1480 680 C1480 710 1455 725 1420 725 C1250 725 1092 600 1092 390 C1092 200 1240 62 1420 62 Z M1264 192 a66 66 0 1 0 132 0 a66 66 0 1 0 -132 0 Z M1449 192 a66 66 0 1 0 132 0 a66 66 0 1 0 -132 0 Z M1165 338 a55 55 0 1 0 110 0 a55 55 0 1 0 -110 0 Z M1570 338 a55 55 0 1 0 110 0 a55 55 0 1 0 -110 0 Z "/></g>
<text transform="translate(4101.7,132.4) rotate(84) scale(1.12,1)" x="0" y="22.3" text-anchor="middle" font-size="65" font-weight="700" fill="#1d1d1b" stroke="#1d1d1b" stroke-width="3.2" stroke-linejoin="miter">П</text>
<text transform="translate(4107.9,184.8) rotate(80) scale(1.12,1)" x="0" y="22.3" text-anchor="middle" font-size="65" font-weight="700" fill="#1d1d1b" stroke="#1d1d1b" stroke-width="3.2" stroke-linejoin="miter">Р</text>
<text transform="translate(4123.9,232.9) rotate(72) scale(1.12,1)" x="0" y="22.3" text-anchor="middle" font-size="65" font-weight="700" fill="#1d1d1b" stroke="#1d1d1b" stroke-width="3.2" stroke-linejoin="miter">О</text>
<text transform="translate(4147.3,288.3) rotate(66) scale(1.12,1)" x="0" y="22.3" text-anchor="middle" font-size="65" font-weight="700" fill="#1d1d1b" stroke="#1d1d1b" stroke-width="3.2" stroke-linejoin="miter">Ф</text>
<text transform="translate(4173.2,333.8) rotate(58) scale(1.12,1)" x="0" y="22.3" text-anchor="middle" font-size="65" font-weight="700" fill="#1d1d1b" stroke="#1d1d1b" stroke-width="3.2" stroke-linejoin="miter">Е</text>
<text transform="translate(4207.6,373.2) rotate(50) scale(1.12,1)" x="0" y="22.3" text-anchor="middle" font-size="65" font-weight="700" fill="#1d1d1b" stroke="#1d1d1b" stroke-width="3.2" stroke-linejoin="miter">С</text>
<text transform="translate(4248.3,407.7) rotate(42) scale(1.12,1)" x="0" y="22.3" text-anchor="middle" font-size="65" font-weight="700" fill="#1d1d1b" stroke="#1d1d1b" stroke-width="3.2" stroke-linejoin="miter">С</text>
<text transform="translate(4293.8,436) rotate(33) scale(1.12,1)" x="0" y="22.3" text-anchor="middle" font-size="65" font-weight="700" fill="#1d1d1b" stroke="#1d1d1b" stroke-width="3.2" stroke-linejoin="miter">И</text>
<text transform="translate(4343.6,458.5) rotate(24) scale(1.12,1)" x="0" y="22.3" text-anchor="middle" font-size="65" font-weight="700" fill="#1d1d1b" stroke="#1d1d1b" stroke-width="3.2" stroke-linejoin="miter">О</text>
<text transform="translate(4394.7,474.8) rotate(16) scale(1.12,1)" x="0" y="22.3" text-anchor="middle" font-size="65" font-weight="700" fill="#1d1d1b" stroke="#1d1d1b" stroke-width="3.2" stroke-linejoin="miter">Н</text>
<text transform="translate(4443.7,486.8) rotate(11) scale(1.12,1)" x="0" y="22.3" text-anchor="middle" font-size="65" font-weight="700" fill="#1d1d1b" stroke="#1d1d1b" stroke-width="3.2" stroke-linejoin="miter">А</text>
<text transform="translate(4499.3,493.4) rotate(6) scale(1.12,1)" x="0" y="22.3" text-anchor="middle" font-size="65" font-weight="700" fill="#1d1d1b" stroke="#1d1d1b" stroke-width="3.2" stroke-linejoin="miter">Л</text>
<text transform="translate(4551.6,494.9) rotate(1) scale(1.12,1)" x="0" y="22.3" text-anchor="middle" font-size="65" font-weight="700" fill="#1d1d1b" stroke="#1d1d1b" stroke-width="3.2" stroke-linejoin="miter">И</text>
<text transform="translate(4603.8,494.9) rotate(-5) scale(1.12,1)" x="0" y="22.3" text-anchor="middle" font-size="65" font-weight="700" fill="#1d1d1b" stroke="#1d1d1b" stroke-width="3.2" stroke-linejoin="miter">Т</text>
<text transform="translate(4654.6,492.3) rotate(-7) scale(1.12,1)" x="0" y="22.3" text-anchor="middle" font-size="65" font-weight="700" fill="#1d1d1b" stroke="#1d1d1b" stroke-width="3.2" stroke-linejoin="miter">Е</text>
<text transform="translate(4703,486.8) rotate(-10) scale(1.12,1)" x="0" y="22.3" text-anchor="middle" font-size="65" font-weight="700" fill="#1d1d1b" stroke="#1d1d1b" stroke-width="3.2" stroke-linejoin="miter">Т</text>
<text x="4031" y="492.4" font-size="88" textLength="75" lengthAdjust="spacingAndGlyphs" font-weight="200" fill="#111" stroke="#111" stroke-width="1.7" font-family='"DejaVu Sans Light","DejaVu Sans",sans-serif'>2024</text>
<path d="M4141.4 540 L4033 647.5" stroke="#1d1d1b" stroke-width="2.6" fill="none"/>
<text x="4142.6" y="675.8" font-size="61" stroke="#1d1d1b" stroke-width="0.9" textLength="754.4" lengthAdjust="spacingAndGlyphs" font-weight="200" fill="#1d1d1b" font-family='"DejaVu Sans Light","DejaVu Sans",sans-serif'>искусство и креативная</text>
<text x="4142.6" y="748.5" font-size="61" stroke="#1d1d1b" stroke-width="0.9" textLength="331.4" lengthAdjust="spacingAndGlyphs" font-weight="200" fill="#1d1d1b" font-family='"DejaVu Sans Light","DejaVu Sans",sans-serif'>индустрия</text>
<path d="M527 1400 A75 75 0 0 1 602 1332" fill="none" stroke="#5a3fa5" stroke-width="8" stroke-dasharray="36 17" stroke-dashoffset="-10"/>
<path d="M602 1332 H4352" fill="none" stroke="#5a3fa5" stroke-width="8.1" stroke-dasharray="35.1 17.56" stroke-dashoffset="36.3"/>
<path d="M4352 1332 A80 75 0 0 1 4432 1400" fill="none" stroke="#5a3fa5" stroke-width="8" stroke-dasharray="36 17"/>
<rect x="2474.1" y="1244" width="9.8" height="22.6" fill="#5a3fa5"/><rect x="2474.1" y="1289" width="9.8" height="53.8" fill="#5a3fa5"/>
<rect x="1502.8" y="1358.2" width="12.2" height="33" fill="#5a3fa5"/>
<rect x="2473.3" y="1358.2" width="12.2" height="33" fill="#5a3fa5"/>
<rect x="3448.4" y="1358.2" width="12.2" height="33" fill="#5a3fa5"/>
<rect x="1502.8" y="1328" width="12.2" height="15" fill="#5a3fa5"/>
<rect x="3448.4" y="1328" width="12.2" height="15" fill="#5a3fa5"/>
<!--TOPICON-->
<circle cx="2480.3" cy="717" r="161.5" fill="#000" opacity="0.06" filter="url(#glow)"/>
<circle cx="2480.3" cy="717" r="153.5" fill="#000" fill-opacity="0.025" stroke="#5a3fa5" stroke-width="2.6"/>
<circle cx="2480.3" cy="717" r="141" fill="#6a38f8"/>
<circle cx="2480.3" cy="719.5" r="119.7" fill="#fff" filter="url(#sh)"/>
<g transform="translate(2300,540) scale(0.2217)"><path d="M662 560 L820 445 L975 560 V650 Q975 685 955 685 H682 Q662 685 662 650 Z" fill="#e67e22"/><path d="M632 532 L820 403 L1008 532" fill="none" stroke="#a56941" stroke-width="60" stroke-linecap="round" stroke-linejoin="round"/><path d="M782 685 V580 Q782 568 794 568 H845 Q857 568 857 580 V685 Z" fill="#7f4f2f"/><rect x="662" y="620" width="50" height="24" rx="10" fill="#d35f2a"/><rect x="925" y="620" width="50" height="24" rx="10" fill="#d35f2a"/><rect x="628" y="738" width="325" height="182" fill="#f0c419"/><path d="M630 738 L515 790 L515 870 L630 920 L665 872 L635 830 L665 788 Z" fill="#fdd7ad"/><path d="M517 789 L438 830 L517 871 Z" fill="#464f5d"/><rect x="950" y="738" width="106" height="182" fill="#95a5a5"/><path d="M1055 738 H1165 Q1200 738 1200 773 V885 Q1200 920 1165 920 H1055 Z" fill="#ff5364"/><path d="M1148 802 V870 H1107" fill="none" stroke="#fff" stroke-width="24" stroke-linecap="round" stroke-linejoin="round"/><path d="M668 790 H950 M668 868 H735 M820 868 H950" fill="none" stroke="#ab8b3e" stroke-width="22" stroke-linecap="round"/><rect x="438" y="975" width="762" height="156" rx="9" fill="#f0c419"/><circle cx="517" cy="1053" r="27" fill="#fff"/><path d="M608 1119 V1066 M713 1119 V1066 M818 1119 V1066 M923 1119 V1066 M1028 1119 V1066 M1133 1119 V1066 M660 1119 V1092 M765 1119 V1092 M870 1119 V1092 M975 1119 V1092 M1080 1119 V1092 " fill="none" stroke="#ab8b3e" stroke-width="22" stroke-linecap="round"/></g>
<rect x="1473.8" y="839.4" width="2014.9" height="406.2" rx="115.0" fill="#d1740f" opacity="0.9"/>
<text x="2188.6" y="940.9" font-size="74.0" textLength="591.1" lengthAdjust="spacingAndGlyphs" font-weight="700" fill="#fff" stroke="#fff" stroke-width="1" stroke-linejoin="round">СПЕЦИАЛЬНОСТЬ</text>
<text x="1996.0" y="1022.4" font-size="74.0" textLength="972.5" lengthAdjust="spacingAndGlyphs" fill="#fff" stroke="#fff" stroke-width="1.6" stroke-linejoin="round">54.02.01 Дизайн (по отраслям)</text>
<text x="1853.0" y="1084.6" font-size="53.0" textLength="1242.8" lengthAdjust="spacingAndGlyphs" font-weight="700" fill="#fff">Дизайнер – это специалист объединяющий эстетику</text>
<text x="1627.0" y="1144.0" font-size="53.0" textLength="1696.8" lengthAdjust="spacingAndGlyphs" font-weight="700" fill="#fff">с техническими особенностями, полезность с красотой внешнего вида,</text>
<text x="1840.7" y="1203.5" font-size="53.0" textLength="1283.9" lengthAdjust="spacingAndGlyphs" font-weight="700" fill="#fff">задумки разработчиков с пользовательским спросом.</text>
<rect x="239.6" y="1643.0" width="574.9" height="211.5" rx="86.0" fill="#d1740f" opacity="0.68"/>
<rect x="1219.6" y="1643.0" width="574.9" height="211.5" rx="86.0" fill="#d1740f" opacity="0.8"/>
<rect x="2192.0" y="1643.0" width="578.0" height="211.5" rx="86.0" fill="#d1740f" opacity="0.86"/>
<rect x="3167.4" y="1643.0" width="574.4" height="211.5" rx="86.0" fill="#d1740f" opacity="0.93"/>
<rect x="4143.4" y="1643.0" width="574.4" height="211.5" rx="86.0" fill="#d1740f" opacity="0.95"/>
<circle cx="526.5" cy="1538.5" r="156.5" fill="#000" opacity="0.06" filter="url(#glow)"/>
<circle cx="526.5" cy="1538.5" r="148.5" fill="#000" fill-opacity="0.025" stroke="#5a3fa5" stroke-width="2.6"/>
<circle cx="526.5" cy="1538.5" r="137.5" fill="#a085f9" fill-opacity="0.45"/>
<circle cx="526.5" cy="1539.0" r="115" fill="#fff" filter="url(#sh)"/>
<g transform="translate(356.05,1370.14) scale(0.2094)"><g transform="translate(0,-1)"><path d="M450 1160 C450 1050 520 1010 640 972 H905 V1160 Z" fill="#e8eefd"/><g transform="translate(-44,8)"><path d="M722 860 L716 965 H920 L915 860 Z" fill="#c5d8fb"/><path d="M722 870 L717 962 M915 870 L919 958" fill="none" stroke="#3d8bfd" stroke-width="21" stroke-linecap="round" stroke-linejoin="round" /></g><path d="M640 985 C700 1045 850 1045 905 985 L880 955 C830 1000 720 1000 668 958 Z" fill="#e8eefd" stroke="#3d8bfd" stroke-width="21" stroke-linejoin="round"/><rect x="775" y="1120" width="122" height="32" fill="#a4c2f7"/><path d="M450 1160 C450 1050 520 1010 640 975 M770 1075 H905 M770 1075 V1108 L755 1125 V1160 M587 1115 V1155 M450 1160 H1215" fill="none" stroke="#3d8bfd" stroke-width="21" stroke-linecap="round" stroke-linejoin="round" /><g transform="translate(-44,0)"><circle cx="648" cy="690" r="30" fill="#e8eefd" stroke="#3d8bfd" stroke-width="21"/><circle cx="987" cy="690" r="30" fill="#e8eefd" stroke="#3d8bfd" stroke-width="21"/><path d="M680 560 V785 C690 830 740 872 790 890 H848 C900 872 948 830 957 785 V560 Z" fill="#e8eefd" stroke="#3d8bfd" stroke-width="21" stroke-linejoin="round"/><path d="M930 620 V780 C925 820 890 860 850 880 H848 C900 872 948 830 957 785 V620 Z" fill="#c5d8fb"/><path d="M722 637 H790 M855 637 H920 M800 745 H835 M790 797 H850 M800 838 H835" fill="none" stroke="#3d8bfd" stroke-width="21" stroke-linecap="round" stroke-linejoin="round" /><path d="M733 676 H777 L755 699 Z M863 676 H907 L885 699 Z" fill="#3d8bfd" stroke="#3d8bfd" stroke-width="6" stroke-linejoin="round"/></g><path d="M455 490 L775 385 L1095 480 L930 560 H620 Z" fill="#a4c2f7"/><rect x="628" y="505" width="292" height="80" rx="22" fill="#a4c2f7" stroke="#3d8bfd" stroke-width="21"/><rect x="640" y="575" width="270" height="22" fill="#e8eefd"/><path d="M640 585 H908" fill="none" stroke="#3d8bfd" stroke-width="21" stroke-linecap="round" stroke-linejoin="round" /><path d="M562 442 L775 385 L1095 480 L935 560 M455 490 L620 562 M1095 480 V615" fill="none" stroke="#3d8bfd" stroke-width="21" stroke-linecap="round" stroke-linejoin="round" /><circle cx="515" cy="462" r="12" fill="#3d8bfd"/><circle cx="460" cy="478" r="12" fill="#3d8bfd"/><path d="M962 862 H1205 Q1235 862 1233 892 L1215 1160 H915 L935 890 Q937 862 962 862 Z" fill="#e8eefd" stroke="#3d8bfd" stroke-width="21" stroke-linejoin="round"/><path d="M1190 875 L1212 878 L1196 1148 H1168 Z" fill="#c5d8fb"/><circle cx="1075" cy="1000" r="48" fill="#c5d8fb" stroke="#3d8bfd" stroke-width="21"/></g></g>
<circle cx="1508.5" cy="1538.5" r="156.5" fill="#000" opacity="0.06" filter="url(#glow)"/>
<circle cx="1508.5" cy="1538.5" r="148.5" fill="#000" fill-opacity="0.025" stroke="#5a3fa5" stroke-width="2.6"/>
<circle cx="1508.5" cy="1538.5" r="137.5" fill="#8b65ef" fill-opacity="0.5"/>
<circle cx="1508.5" cy="1539.0" r="115" fill="#fff" filter="url(#sh)"/>
<g transform="translate(1338.05,1370.14) scale(0.2094)"><g transform="translate(9,4)"><path d="M440 1165 L445 1060 C455 1010 505 985 600 952 L640 932 H820 L855 942 L960 980 C1020 1010 1040 1060 1040 1165 Z" fill="#c5d8fb"/><g transform="translate(-90,15)"><path d="M722 860 L716 965 H920 L915 860 Z" fill="#c5d8fb"/><path d="M722 870 L717 962 M915 870 L919 958" fill="none" stroke="#3d8bfd" stroke-width="21" stroke-linecap="round" stroke-linejoin="round" /></g><path d="M600 958 L690 1042 L735 1002 L790 1046 L870 958 L820 930 H640 Z" fill="#e8eefd"/><path d="M700 1052 L735 1005 L770 1052 L778 1165 H693 Z" fill="#e8eefd" stroke="#3d8bfd" stroke-width="21" stroke-linejoin="round"/><path d="M445 1060 C455 1010 505 985 600 955 L690 1042 L735 1002 L790 1046 L870 955 L960 980 C1020 1010 1040 1060 1040 1165 H432" fill="none" stroke="#3d8bfd" stroke-width="21" stroke-linecap="round" stroke-linejoin="round" /><circle cx="435" cy="1105" r="13" fill="#3d8bfd"/><g transform="translate(-90,15)"><circle cx="648" cy="690" r="30" fill="#e8eefd" stroke="#3d8bfd" stroke-width="21"/><circle cx="987" cy="690" r="30" fill="#e8eefd" stroke="#3d8bfd" stroke-width="21"/><path d="M680 560 V785 C690 830 740 872 790 890 H848 C900 872 948 830 957 785 V560 Z" fill="#e8eefd" stroke="#3d8bfd" stroke-width="21" stroke-linejoin="round"/><path d="M930 620 V780 C925 820 890 860 850 880 H848 C900 872 948 830 957 785 V620 Z" fill="#c5d8fb"/><path d="M672 690 C625 600 635 500 700 455 C745 398 835 368 917 405 L882 440 C962 462 1003 525 990 605 L962 690 L957 600 C950 575 900 592 850 590 C790 560 740 535 700 545 C680 560 680 600 672 690 Z" fill="#c5d8fb" stroke="#3d8bfd" stroke-width="21" stroke-linejoin="round"/><path d="M722 637 H790 M855 637 H920 M800 745 H835 M790 797 H850 M800 838 H835" fill="none" stroke="#3d8bfd" stroke-width="21" stroke-linecap="round" stroke-linejoin="round" /><path d="M733 676 H777 L755 699 Z M863 676 H907 L885 699 Z" fill="#3d8bfd" stroke="#3d8bfd" stroke-width="6" stroke-linejoin="round"/></g><path d="M945 745 C880 700 850 640 855 575 C865 470 940 405 1030 405 C1120 405 1195 475 1197 575 C1198 640 1170 700 1105 745 L1100 790 H950 Z" fill="#c5d8fb" stroke="#3d8bfd" stroke-width="21" stroke-linejoin="round"/><rect x="930" y="797" width="190" height="36" rx="18" fill="#e8eefd" stroke="#3d8bfd" stroke-width="21"/><path d="M962 845 C975 905 1075 905 1088 845 Z" fill="#e8eefd" stroke="#3d8bfd" stroke-width="21" stroke-linejoin="round"/><path d="M985 545 V505 Q985 482 1005 482 H1040 Q1060 482 1060 505 V545" fill="none" stroke="#3d8bfd" stroke-width="21" stroke-linecap="round" stroke-linejoin="round" /><rect x="930" y="545" width="186" height="116" rx="18" fill="#e8eefd" stroke="#3d8bfd" stroke-width="21"/><path d="M935 580 C990 625 1060 625 1112 580" fill="none" stroke="#3d8bfd" stroke-width="21" stroke-linecap="round" stroke-linejoin="round" /><circle cx="1022" cy="618" r="9" fill="#3d8bfd"/></g></g>
<circle cx="2481.5" cy="1538.5" r="156.5" fill="#000" opacity="0.06" filter="url(#glow)"/>
<circle cx="2481.5" cy="1538.5" r="148.5" fill="#000" fill-opacity="0.025" stroke="#5a3fa5" stroke-width="2.6"/>
<circle cx="2481.5" cy="1538.5" r="137.5" fill="#7f57f4" fill-opacity="0.6"/>
<circle cx="2481.5" cy="1539.0" r="115" fill="#fff" filter="url(#sh)"/>
<g transform="translate(2311.05,1370.14) scale(0.2094)"><g transform="translate(-8,-1)"><path d="M800 447 H1195 Q1215 447 1215 467 V835 H870 V650 Z" fill="#a4c2f7" stroke="#3d8bfd" stroke-width="21" stroke-linejoin="round"/><rect x="1178" y="460" width="28" height="368" fill="#8fb2f5"/><rect x="850" y="838" width="390" height="42" rx="10" fill="#e8eefd" stroke="#3d8bfd" stroke-width="21"/><path d="M978 512 H1160 M1032 565 H1160" fill="none" stroke="#3d8bfd" stroke-width="21" stroke-linecap="round" stroke-linejoin="round" /><text x="958" y="742" font-size="170" font-weight="700" fill="#3d8bfd" textLength="222" lengthAdjust="spacingAndGlyphs" font-family='"Liberation Sans",sans-serif'>CH</text><path d="M487 1195 L510 1110 C530 1060 570 1035 610 1020 L640 1000 H830 L870 1020 C940 1060 975 1110 985 1195 Z" fill="#e8eefd"/><g transform="translate(-80,55)"><path d="M722 860 L716 965 H920 L915 860 Z" fill="#c5d8fb"/><path d="M722 870 L717 962 M915 870 L919 958" fill="none" stroke="#3d8bfd" stroke-width="21" stroke-linecap="round" stroke-linejoin="round" /></g><path d="M700 1092 L735 1065 L770 1092 L765 1130 H705 Z M712 1133 H758 L770 1195 H698 Z" fill="#a4c2f7" stroke="#3d8bfd" stroke-width="21" stroke-linejoin="round"/><path d="M510 1110 C530 1060 570 1035 610 1020 L690 1092 L735 1060 L785 1095 L862 1018 C940 1060 975 1110 985 1195 H485 M577 1160 V1190 M888 1160 V1190" fill="none" stroke="#3d8bfd" stroke-width="21" stroke-linecap="round" stroke-linejoin="round" /><circle cx="493" cy="1135" r="13" fill="#3d8bfd"/><g transform="translate(-80,55)"><circle cx="648" cy="690" r="30" fill="#e8eefd" stroke="#3d8bfd" stroke-width="21"/><circle cx="987" cy="690" r="30" fill="#e8eefd" stroke="#3d8bfd" stroke-width="21"/><path d="M680 560 V785 C690 830 740 872 790 890 H848 C900 872 948 830 957 785 V560 Z" fill="#e8eefd" stroke="#3d8bfd" stroke-width="21" stroke-linejoin="round"/><path d="M930 620 V780 C925 820 890 860 850 880 H848 C900 872 948 830 957 785 V620 Z" fill="#c5d8fb"/><path d="M672 690 C625 600 635 500 700 455 C745 398 835 368 917 405 L882 440 C962 462 1003 525 990 605 L962 690 L957 600 C950 575 900 592 850 590 C790 560 740 535 700 545 C680 560 680 600 672 690 Z" fill="#c5d8fb" stroke="#3d8bfd" stroke-width="21" stroke-linejoin="round"/><path d="M722 637 H790 M855 637 H920 M800 745 H835 M790 797 H850 M800 838 H835" fill="none" stroke="#3d8bfd" stroke-width="21" stroke-linecap="round" stroke-linejoin="round" /><path d="M733 676 H777 L755 699 Z M863 676 H907 L885 699 Z" fill="#3d8bfd" stroke="#3d8bfd" stroke-width="6" stroke-linejoin="round"/></g></g></g>
<circle cx="3454.5" cy="1538.5" r="156.5" fill="#000" opacity="0.06" filter="url(#glow)"/>
<circle cx="3454.5" cy="1538.5" r="148.5" fill="#000" fill-opacity="0.025" stroke="#5a3fa5" stroke-width="2.6"/>
<circle cx="3454.5" cy="1538.5" r="137.5" fill="#7d51f5" fill-opacity="0.68"/>
<circle cx="3454.5" cy="1539.0" r="115" fill="#fff" filter="url(#sh)"/>
<g transform="translate(3284.05,1370.14) scale(0.2094)"><path d="M475 1155 L505 1055 C545 1000 625 975 715 950 H925 C1050 985 1140 1012 1165 1150 V1155 Z" fill="#e8eefd"/><path d="M1060 1000 C1120 1030 1150 1080 1165 1150 H1120 C1110 1090 1090 1040 1060 1000 Z" fill="#c5d8fb"/><g transform="translate(0,0)"><path d="M722 860 L716 965 H920 L915 860 Z" fill="#c5d8fb"/><path d="M722 870 L717 962 M915 870 L919 958" fill="none" stroke="#3d8bfd" stroke-width="21" stroke-linecap="round" stroke-linejoin="round" /></g><path d="M775 1002 L820 985 L863 1005 L850 1062 H790 Z M790 1066 H850 L882 1150 H755 Z" fill="#a4c2f7" stroke="#3d8bfd" stroke-width="21" stroke-linejoin="round"/><path d="M505 1055 C545 1000 625 975 715 950 L712 1012 L745 1042 L790 985 M1165 1150 C1140 1012 1050 985 925 950 L922 1012 L895 1042 L850 985 M935 1085 H1035 M475 1155 H1165" fill="none" stroke="#3d8bfd" stroke-width="21" stroke-linecap="round" stroke-linejoin="round" /><circle cx="485" cy="1100" r="13" fill="#3d8bfd"/><circle cx="635" cy="1137" r="10" fill="#3d8bfd"/><circle cx="1003" cy="1137" r="10" fill="#3d8bfd"/><g transform="translate(0,0)"><circle cx="648" cy="690" r="30" fill="#e8eefd" stroke="#3d8bfd" stroke-width="21"/><circle cx="987" cy="690" r="30" fill="#e8eefd" stroke="#3d8bfd" stroke-width="21"/><path d="M680 560 V785 C690 830 740 872 790 890 H848 C900 872 948 830 957 785 V560 Z" fill="#e8eefd" stroke="#3d8bfd" stroke-width="21" stroke-linejoin="round"/><path d="M930 620 V780 C925 820 890 860 850 880 H848 C900 872 948 830 957 785 V620 Z" fill="#c5d8fb"/><path d="M672 690 C625 600 635 500 700 455 C745 398 835 368 917 405 L882 440 C962 462 1003 525 990 605 L962 690 L957 600 C950 575 900 592 850 590 C790 560 740 535 700 545 C680 560 680 600 672 690 Z" fill="#c5d8fb" stroke="#3d8bfd" stroke-width="21" stroke-linejoin="round"/><path d="M722 637 H790 M855 637 H920 M800 745 H835 M790 797 H850 M800 838 H835" fill="none" stroke="#3d8bfd" stroke-width="21" stroke-linecap="round" stroke-linejoin="round" /><path d="M733 676 H777 L755 699 Z M863 676 H907 L885 699 Z" fill="#3d8bfd" stroke="#3d8bfd" stroke-width="6" stroke-linejoin="round"/></g></g>
<circle cx="4432.5" cy="1538.5" r="156.5" fill="#000" opacity="0.06" filter="url(#glow)"/>
<circle cx="4432.5" cy="1538.5" r="148.5" fill="#000" fill-opacity="0.025" stroke="#5a3fa5" stroke-width="2.6"/>
<circle cx="4432.5" cy="1538.5" r="137.5" fill="#7e53f4" fill-opacity="0.72"/>
<circle cx="4432.5" cy="1539.0" r="115" fill="#fff" filter="url(#sh)"/>
<g transform="translate(4262.05,1370.14) scale(0.2094)"><path d="M475 1155 L505 1055 C545 1000 625 975 715 950 H925 C1050 985 1140 1012 1165 1150 V1155 Z" fill="#e8eefd"/><path d="M1060 1000 C1120 1030 1150 1080 1165 1150 H1120 C1110 1090 1090 1040 1060 1000 Z" fill="#c5d8fb"/><g transform="translate(0,0)"><path d="M722 860 L716 965 H920 L915 860 Z" fill="#c5d8fb"/><path d="M722 870 L717 962 M915 870 L919 958" fill="none" stroke="#3d8bfd" stroke-width="21" stroke-linecap="round" stroke-linejoin="round" /></g><path d="M775 1002 L820 985 L863 1005 L850 1062 H790 Z M790 1066 H850 L882 1150 H755 Z" fill="#a4c2f7" stroke="#3d8bfd" stroke-width="21" stroke-linejoin="round"/><path d="M505 1055 C545 1000 625 975 715 950 L712 1012 L745 1042 L790 985 M1165 1150 C1140 1012 1050 985 925 950 L922 1012 L895 1042 L850 985 M935 1085 H1035 M475 1155 H1165" fill="none" stroke="#3d8bfd" stroke-width="21" stroke-linecap="round" stroke-linejoin="round" /><circle cx="485" cy="1100" r="13" fill="#3d8bfd"/><circle cx="635" cy="1137" r="10" fill="#3d8bfd"/><circle cx="1003" cy="1137" r="10" fill="#3d8bfd"/><g transform="translate(0,0)"><circle cx="648" cy="690" r="30" fill="#e8eefd" stroke="#3d8bfd" stroke-width="21"/><circle cx="987" cy="690" r="30" fill="#e8eefd" stroke="#3d8bfd" stroke-width="21"/><path d="M680 560 V785 C690 830 740 872 790 890 H848 C900 872 948 830 957 785 V560 Z" fill="#e8eefd" stroke="#3d8bfd" stroke-width="21" stroke-linejoin="round"/><path d="M930 620 V780 C925 820 890 860 850 880 H848 C900 872 948 830 957 785 V620 Z" fill="#c5d8fb"/><path d="M672 690 C625 600 635 500 700 455 C745 398 835 368 917 405 L882 440 C962 462 1003 525 990 605 L962 690 L957 600 C950 575 900 592 850 590 C790 560 740 535 700 545 C680 560 680 600 672 690 Z" fill="#c5d8fb" stroke="#3d8bfd" stroke-width="21" stroke-linejoin="round"/><path d="M722 637 H790 M855 637 H920 M800 745 H835 M790 797 H850 M800 838 H835" fill="none" stroke="#3d8bfd" stroke-width="21" stroke-linecap="round" stroke-linejoin="round" /><path d="M733 676 H777 L755 699 Z M863 676 H907 L885 699 Z" fill="#3d8bfd" stroke="#3d8bfd" stroke-width="6" stroke-linejoin="round"/></g></g>
<text x="413.5" y="1764.0" font-size="60.0" textLength="205.1" lengthAdjust="spacingAndGlyphs" font-weight="700" fill="#fff" stroke="#fff" stroke-width="1.6" stroke-linejoin="round">Студент</text>
<text x="1412.0" y="1778.0" font-size="60.0" textLength="192.0" lengthAdjust="spacingAndGlyphs" font-weight="700" fill="#fff" stroke="#fff" stroke-width="1.6" stroke-linejoin="round">Стажер</text>
<text x="2330.0" y="1770.0" font-size="60.0" textLength="306.5" lengthAdjust="spacingAndGlyphs" font-weight="700" fill="#fff" stroke="#fff" stroke-width="1.6" stroke-linejoin="round">Специалист</text>
<text x="3203.0" y="1766.4" font-size="60.0" textLength="502.0" lengthAdjust="spacingAndGlyphs" font-weight="700" fill="#fff" stroke="#fff" stroke-width="1.6" stroke-linejoin="round">Ведущий дизайнер</text>
<text x="4305.0" y="1744.0" font-size="60.0" textLength="250.0" lengthAdjust="spacingAndGlyphs" font-weight="700" fill="#fff" stroke="#fff" stroke-width="1.6" stroke-linejoin="round">Директор</text>
<text x="4240.4" y="1802.0" font-size="60.0" textLength="392.6" lengthAdjust="spacingAndGlyphs" font-weight="700" fill="#fff" stroke="#fff" stroke-width="1.6" stroke-linejoin="round">дизайн-студии</text>
<text transform="translate(791.5,1546.7) skewX(-13)" x="0" y="0" font-size="85" font-weight="700" fill="#666" textLength="230.1" lengthAdjust="spacingAndGlyphs">3 года</text>
<g transform="translate(1078.0,1542.7) scale(1.000)" fill="none" stroke="#666" stroke-linecap="round" stroke-linejoin="round"><path d="M5 -19 C40 -33 95 -27 156 -6" stroke-width="15"/><path d="M112 -44 C130 -28 148 -14 160 -5 C140 4 122 10 106 17" stroke-width="11"/><path d="M30 -5 C55 -11 80 -11 100 -7" stroke-width="4"/></g>
<text transform="translate(1767.5,1546.7) skewX(-13)" x="0" y="0" font-size="85" font-weight="700" fill="#666" textLength="230.5" lengthAdjust="spacingAndGlyphs">3 года</text>
<g transform="translate(2052.6,1542.7) scale(1.002)" fill="none" stroke="#666" stroke-linecap="round" stroke-linejoin="round"><path d="M5 -19 C40 -33 95 -27 156 -6" stroke-width="15"/><path d="M112 -44 C130 -28 148 -14 160 -5 C140 4 122 10 106 17" stroke-width="11"/><path d="M30 -5 C55 -11 80 -11 100 -7" stroke-width="4"/></g>
<text transform="translate(2738.0,1549.0) skewX(-13)" x="0" y="0" font-size="85" font-weight="700" fill="#666" textLength="229.7" lengthAdjust="spacingAndGlyphs">3 года</text>
<g transform="translate(2996.7,1545.0) scale(0.993)" fill="none" stroke="#666" stroke-linecap="round" stroke-linejoin="round"><path d="M5 -19 C40 -33 95 -27 156 -6" stroke-width="15"/><path d="M112 -44 C130 -28 148 -14 160 -5 C140 4 122 10 106 17" stroke-width="11"/><path d="M30 -5 C55 -11 80 -11 100 -7" stroke-width="4"/></g>
<text transform="translate(3772.0,1549.0) skewX(-13)" x="0" y="0" font-size="85" font-weight="700" fill="#666" textLength="186.0" lengthAdjust="spacingAndGlyphs">5 лет</text>
<g transform="translate(4006.0,1545.0) scale(0.994)" fill="none" stroke="#666" stroke-linecap="round" stroke-linejoin="round"><path d="M5 -19 C40 -33 95 -27 156 -6" stroke-width="15"/><path d="M112 -44 C130 -28 148 -14 160 -5 C140 4 122 10 106 17" stroke-width="11"/><path d="M30 -5 C55 -11 80 -11 100 -7" stroke-width="4"/></g>
<rect x="59" y="1876" width="944.5" height="848" rx="113" fill="#fff" fill-opacity="0.22" stroke="#5a3fa5" stroke-width="2.6" stroke-dasharray="12 6.5"/>
<rect x="106.0" y="1905.0" width="848.0" height="627.0" rx="88.0" fill="#bbbbbb" />
<rect x="148.0" y="2568.0" width="763.0" height="122.0" rx="50.0" fill="#bcbcbc" />
<g transform="translate(175.5,1961.5)" fill="#5a3fa5" fill-opacity="0.9"><rect x="-2.6" y="-21.0" width="5.2" height="5.5" transform="rotate(0)"/><rect x="-2.6" y="-21.0" width="5.2" height="5.5" transform="rotate(30)"/><rect x="-2.6" y="-21.0" width="5.2" height="5.5" transform="rotate(60)"/><rect x="-2.6" y="-21.0" width="5.2" height="5.5" transform="rotate(90)"/><rect x="-2.6" y="-21.0" width="5.2" height="5.5" transform="rotate(120)"/><rect x="-2.6" y="-21.0" width="5.2" height="5.5" transform="rotate(150)"/><rect x="-2.6" y="-21.0" width="5.2" height="5.5" transform="rotate(180)"/><rect x="-2.6" y="-21.0" width="5.2" height="5.5" transform="rotate(210)"/><rect x="-2.6" y="-21.0" width="5.2" height="5.5" transform="rotate(240)"/><rect x="-2.6" y="-21.0" width="5.2" height="5.5" transform="rotate(270)"/><rect x="-2.6" y="-21.0" width="5.2" height="5.5" transform="rotate(300)"/><rect x="-2.6" y="-21.0" width="5.2" height="5.5" transform="rotate(330)"/><circle r="15.2" fill="none" stroke="#5a3fa5" stroke-width="2.4"/><circle r="11.2" fill="none" stroke="#5a3fa5" stroke-width="1.6"/><circle r="5.2" fill="none" stroke="#5a3fa5" stroke-width="2.2"/><rect x="-1.1" y="-11" width="2.2" height="6" transform="rotate(0)"/><rect x="-1.1" y="-11" width="2.2" height="6" transform="rotate(60)"/><rect x="-1.1" y="-11" width="2.2" height="6" transform="rotate(120)"/><rect x="-1.1" y="-11" width="2.2" height="6" transform="rotate(180)"/><rect x="-1.1" y="-11" width="2.2" height="6" transform="rotate(240)"/><rect x="-1.1" y="-11" width="2.2" height="6" transform="rotate(300)"/></g>
<g transform="translate(175.5,2011.0)" fill="#5a3fa5" fill-opacity="0.9"><rect x="-2.6" y="-21.0" width="5.2" height="5.5" transform="rotate(0)"/><rect x="-2.6" y="-21.0" width="5.2" height="5.5" transform="rotate(30)"/><rect x="-2.6" y="-21.0" width="5.2" height="5.5" transform="rotate(60)"/><rect x="-2.6" y="-21.0" width="5.2" height="5.5" transform="rotate(90)"/><rect x="-2.6" y="-21.0" width="5.2" height="5.5" transform="rotate(120)"/><rect x="-2.6" y="-21.0" width="5.2" height="5.5" transform="rotate(150)"/><rect x="-2.6" y="-21.0" width="5.2" height="5.5" transform="rotate(180)"/><rect x="-2.6" y="-21.0" width="5.2" height="5.5" transform="rotate(210)"/><rect x="-2.6" y="-21.0" width="5.2" height="5.5" transform="rotate(240)"/><rect x="-2.6" y="-21.0" width="5.2" height="5.5" transform="rotate(270)"/><rect x="-2.6" y="-21.0" width="5.2" height="5.5" transform="rotate(300)"/><rect x="-2.6" y="-21.0" width="5.2" height="5.5" transform="rotate(330)"/><circle r="15.2" fill="none" stroke="#5a3fa5" stroke-width="2.4"/><circle r="11.2" fill="none" stroke="#5a3fa5" stroke-width="1.6"/><circle r="5.2" fill="none" stroke="#5a3fa5" stroke-width="2.2"/><rect x="-1.1" y="-11" width="2.2" height="6" transform="rotate(0)"/><rect x="-1.1" y="-11" width="2.2" height="6" transform="rotate(60)"/><rect x="-1.1" y="-11" width="2.2" height="6" transform="rotate(120)"/><rect x="-1.1" y="-11" width="2.2" height="6" transform="rotate(180)"/><rect x="-1.1" y="-11" width="2.2" height="6" transform="rotate(240)"/><rect x="-1.1" y="-11" width="2.2" height="6" transform="rotate(300)"/></g>
<g transform="translate(175.5,2113.0)" fill="#5a3fa5" fill-opacity="0.9"><rect x="-2.6" y="-21.0" width="5.2" height="5.5" transform="rotate(0)"/><rect x="-2.6" y="-21.0" width="5.2" height="5.5" transform="rotate(30)"/><rect x="-2.6" y="-21.0" width="5.2" height="5.5" transform="rotate(60)"/><rect x="-2.6" y="-21.0" width="5.2" height="5.5" transform="rotate(90)"/><rect x="-2.6" y="-21.0" width="5.2" height="5.5" transform="rotate(120)"/><rect x="-2.6" y="-21.0" width="5.2" height="5.5" transform="rotate(150)"/><rect x="-2.6" y="-21.0" width="5.2" height="5.5" transform="rotate(180)"/><rect x="-2.6" y="-21.0" width="5.2" height="5.5" transform="rotate(210)"/><rect x="-2.6" y="-21.0" width="5.2" height="5.5" transform="rotate(240)"/><rect x="-2.6" y="-21.0" width="5.2" height="5.5" transform="rotate(270)"/><rect x="-2.6" y="-21.0" width="5.2" height="5.5" transform="rotate(300)"/><rect x="-2.6" y="-21.0" width="5.2" height="5.5" transform="rotate(330)"/><circle r="15.2" fill="none" stroke="#5a3fa5" stroke-width="2.4"/><circle r="11.2" fill="none" stroke="#5a3fa5" stroke-width="1.6"/><circle r="5.2" fill="none" stroke="#5a3fa5" stroke-width="2.2"/><rect x="-1.1" y="-11" width="2.2" height="6" transform="rotate(0)"/><rect x="-1.1" y="-11" width="2.2" height="6" transform="rotate(60)"/><rect x="-1.1" y="-11" width="2.2" height="6" transform="rotate(120)"/><rect x="-1.1" y="-11" width="2.2" height="6" transform="rotate(180)"/><rect x="-1.1" y="-11" width="2.2" height="6" transform="rotate(240)"/><rect x="-1.1" y="-11" width="2.2" height="6" transform="rotate(300)"/></g>
<text x="206.8" y="1982.4" font-size="57.0" textLength="539.0" lengthAdjust="spacingAndGlyphs" fill="#2b2b2b" stroke="#2b2b2b" stroke-width="1.5" stroke-linejoin="round">Обучение в колледже</text>
<text x="206.8" y="2033.0" font-size="57.0" textLength="337.5" lengthAdjust="spacingAndGlyphs" fill="#2b2b2b" stroke="#2b2b2b" stroke-width="1.5" stroke-linejoin="round">Прохождение</text>
<text x="206.8" y="2083.5" font-size="57.0" textLength="707.5" lengthAdjust="spacingAndGlyphs" fill="#2b2b2b" stroke="#2b2b2b" stroke-width="1.5" stroke-linejoin="round">производственной практики</text>
<text x="206.8" y="2135.7" font-size="57.0" textLength="546.5" lengthAdjust="spacingAndGlyphs" fill="#2b2b2b" stroke="#2b2b2b" stroke-width="1.5" stroke-linejoin="round">Курсы по повышению</text>
<text x="206.8" y="2185.4" font-size="57.0" textLength="701.5" lengthAdjust="spacingAndGlyphs" fill="#2b2b2b" stroke="#2b2b2b" stroke-width="1.5" stroke-linejoin="round">навыков 3Д-моделирования</text>
<text x="206.8" y="2236.0" font-size="57.0" textLength="505.5" lengthAdjust="spacingAndGlyphs" fill="#2b2b2b" stroke="#2b2b2b" stroke-width="1.5" stroke-linejoin="round">и визуализирования</text>
<text x="206.6" y="2323.0" font-size="63.0" textLength="548.4" lengthAdjust="spacingAndGlyphs" fill="#51389f" stroke="#51389f" stroke-width="2" stroke-linejoin="round">Ключевые навыки:</text>
<rect x="205.6" y="2331.5" width="550.4" height="4" fill="#51389f"/>
<polygon points="175.5,2342.0 181.0,2358.4 198.3,2358.6 184.4,2368.9 189.6,2385.4 175.5,2375.4 161.4,2385.4 166.6,2368.9 152.7,2358.6 170.0,2358.4" fill="#5a3fa5"/>
<text x="206.3" y="2387.5" font-size="57.0" textLength="695.4" lengthAdjust="spacingAndGlyphs" fill="#2b2b2b" stroke="#2b2b2b" stroke-width="1.5" stroke-linejoin="round">Владение инструментарием</text>
<text x="206.3" y="2439.7" font-size="57.0" textLength="499.9" lengthAdjust="spacingAndGlyphs" fill="#2b2b2b" stroke="#2b2b2b" stroke-width="1.5" stroke-linejoin="round">(Illustrator, 3Ds Max,</text>
<text x="206.3" y="2490.0" font-size="57.0" textLength="363.5" lengthAdjust="spacingAndGlyphs" fill="#2b2b2b" stroke="#2b2b2b" stroke-width="1.5" stroke-linejoin="round">ArchiCad и др.)</text>
<text x="277.0" y="2647.0" font-size="54.5" textLength="500.0" lengthAdjust="spacingAndGlyphs" fill="#5a3fa5" stroke="#5a3fa5" stroke-width="1.8" stroke-linejoin="round">Доход 10 – 30 тыс.руб.</text>
<rect x="1032" y="1880.5" width="941" height="843.5" rx="113" fill="#fff" fill-opacity="0.22" stroke="#5a3fa5" stroke-width="2.6" stroke-dasharray="12 6.5"/>
<rect x="1082.0" y="1906.6" width="845.0" height="625.4" rx="88.0" fill="#bbbbbb" />
<rect x="1123.7" y="2568.0" width="757.9" height="122.0" rx="50.0" fill="#bcbcbc" />
<g transform="translate(1133.5,2006.8)" fill="#5a3fa5" fill-opacity="0.9"><rect x="-2.6" y="-21.0" width="5.2" height="5.5" transform="rotate(0)"/><rect x="-2.6" y="-21.0" width="5.2" height="5.5" transform="rotate(30)"/><rect x="-2.6" y="-21.0" width="5.2" height="5.5" transform="rotate(60)"/><rect x="-2.6" y="-21.0" width="5.2" height="5.5" transform="rotate(90)"/><rect x="-2.6" y="-21.0" width="5.2" height="5.5" transform="rotate(120)"/><rect x="-2.6" y="-21.0" width="5.2" height="5.5" transform="rotate(150)"/><rect x="-2.6" y="-21.0" width="5.2" height="5.5" transform="rotate(180)"/><rect x="-2.6" y="-21.0" width="5.2" height="5.5" transform="rotate(210)"/><rect x="-2.6" y="-21.0" width="5.2" height="5.5" transform="rotate(240)"/><rect x="-2.6" y="-21.0" width="5.2" height="5.5" transform="rotate(270)"/><rect x="-2.6" y="-21.0" width="5.2" height="5.5" transform="rotate(300)"/><rect x="-2.6" y="-21.0" width="5.2" height="5.5" transform="rotate(330)"/><circle r="15.2" fill="none" stroke="#5a3fa5" stroke-width="2.4"/><circle r="11.2" fill="none" stroke="#5a3fa5" stroke-width="1.6"/><circle r="5.2" fill="none" stroke="#5a3fa5" stroke-width="2.2"/><rect x="-1.1" y="-11" width="2.2" height="6" transform="rotate(0)"/><rect x="-1.1" y="-11" width="2.2" height="6" transform="rotate(60)"/><rect x="-1.1" y="-11" width="2.2" height="6" transform="rotate(120)"/><rect x="-1.1" y="-11" width="2.2" height="6" transform="rotate(180)"/><rect x="-1.1" y="-11" width="2.2" height="6" transform="rotate(240)"/><rect x="-1.1" y="-11" width="2.2" height="6" transform="rotate(300)"/></g>
<g transform="translate(1133.5,2109.6)" fill="#5a3fa5" fill-opacity="0.9"><rect x="-2.6" y="-21.0" width="5.2" height="5.5" transform="rotate(0)"/><rect x="-2.6" y="-21.0" width="5.2" height="5.5" transform="rotate(30)"/><rect x="-2.6" y="-21.0" width="5.2" height="5.5" transform="rotate(60)"/><rect x="-2.6" y="-21.0" width="5.2" height="5.5" transform="rotate(90)"/><rect x="-2.6" y="-21.0" width="5.2" height="5.5" transform="rotate(120)"/><rect x="-2.6" y="-21.0" width="5.2" height="5.5" transform="rotate(150)"/><rect x="-2.6" y="-21.0" width="5.2" height="5.5" transform="rotate(180)"/><rect x="-2.6" y="-21.0" width="5.2" height="5.5" transform="rotate(210)"/><rect x="-2.6" y="-21.0" width="5.2" height="5.5" transform="rotate(240)"/><rect x="-2.6" y="-21.0" width="5.2" height="5.5" transform="rotate(270)"/><rect x="-2.6" y="-21.0" width="5.2" height="5.5" transform="rotate(300)"/><rect x="-2.6" y="-21.0" width="5.2" height="5.5" transform="rotate(330)"/><circle r="15.2" fill="none" stroke="#5a3fa5" stroke-width="2.4"/><circle r="11.2" fill="none" stroke="#5a3fa5" stroke-width="1.6"/><circle r="5.2" fill="none" stroke="#5a3fa5" stroke-width="2.2"/><rect x="-1.1" y="-11" width="2.2" height="6" transform="rotate(0)"/><rect x="-1.1" y="-11" width="2.2" height="6" transform="rotate(60)"/><rect x="-1.1" y="-11" width="2.2" height="6" transform="rotate(120)"/><rect x="-1.1" y="-11" width="2.2" height="6" transform="rotate(180)"/><rect x="-1.1" y="-11" width="2.2" height="6" transform="rotate(240)"/><rect x="-1.1" y="-11" width="2.2" height="6" transform="rotate(300)"/></g>
<text x="1164.5" y="2026.8" font-size="57.0" textLength="398.3" lengthAdjust="spacingAndGlyphs" fill="#2b2b2b" stroke="#2b2b2b" stroke-width="1.5" stroke-linejoin="round">Работа вместе с</text>
<text x="1164.5" y="2078.0" font-size="57.0" textLength="724.7" lengthAdjust="spacingAndGlyphs" fill="#2b2b2b" stroke="#2b2b2b" stroke-width="1.5" stroke-linejoin="round">наставником на предприятии</text>
<text x="1164.5" y="2128.8" font-size="57.0" textLength="650.7" lengthAdjust="spacingAndGlyphs" fill="#2b2b2b" stroke="#2b2b2b" stroke-width="1.5" stroke-linejoin="round">Прохождение стажировок</text>
<text x="1164.5" y="2179.3" font-size="57.0" textLength="724.7" lengthAdjust="spacingAndGlyphs" fill="#2b2b2b" stroke="#2b2b2b" stroke-width="1.5" stroke-linejoin="round">в студиях дизайна интерьера</text>
<text x="1180.5" y="2252.4" font-size="63.0" textLength="547.5" lengthAdjust="spacingAndGlyphs" fill="#51389f" stroke="#51389f" stroke-width="2" stroke-linejoin="round">Ключевые навыки:</text>
<rect x="1179.5" y="2262.0" width="549.5" height="4" fill="#51389f"/>
<polygon points="1135.0,2263.5 1140.5,2279.9 1157.8,2280.1 1143.9,2290.4 1149.1,2306.9 1135.0,2296.9 1120.9,2306.9 1126.1,2290.4 1112.2,2280.1 1129.5,2279.9" fill="#5a3fa5"/>
<polygon points="1135.0,2378.5 1140.5,2394.9 1157.8,2395.1 1143.9,2405.4 1149.1,2421.9 1135.0,2411.9 1120.9,2421.9 1126.1,2405.4 1112.2,2395.1 1129.5,2394.9" fill="#5a3fa5"/>
<text x="1180.2" y="2314.3" font-size="57.0" textLength="598.7" lengthAdjust="spacingAndGlyphs" fill="#2b2b2b" stroke="#2b2b2b" stroke-width="1.5" stroke-linejoin="round">Собственный авторский</text>
<text x="1180.2" y="2371.0" font-size="57.0" textLength="134.4" lengthAdjust="spacingAndGlyphs" fill="#2b2b2b" stroke="#2b2b2b" stroke-width="1.5" stroke-linejoin="round">стиль</text>
<text x="1180.2" y="2425.0" font-size="57.0" textLength="678.8" lengthAdjust="spacingAndGlyphs" fill="#2b2b2b" stroke="#2b2b2b" stroke-width="1.5" stroke-linejoin="round">Знание трендов и новостей</text>
<text x="1180.2" y="2474.6" font-size="57.0" textLength="517.6" lengthAdjust="spacingAndGlyphs" fill="#2b2b2b" stroke="#2b2b2b" stroke-width="1.5" stroke-linejoin="round">в индустрии дизайна</text>
<text x="1249.0" y="2644.5" font-size="54.5" textLength="509.6" lengthAdjust="spacingAndGlyphs" fill="#5a3fa5" stroke="#5a3fa5" stroke-width="1.8" stroke-linejoin="round">Доход 30 – 50 тыс.руб.</text>
<rect x="2004" y="1880.5" width="946" height="845.0" rx="113" fill="#fff" fill-opacity="0.22" stroke="#5a3fa5" stroke-width="2.6" stroke-dasharray="12 6.5"/>
<rect x="2052.8" y="1907.5" width="849.2" height="627.2" rx="88.0" fill="#bbbbbb" />
<rect x="2093.7" y="2571.0" width="764.0" height="122.0" rx="50.0" fill="#bcbcbc" />
<g transform="translate(2121.0,1954.5)" fill="#5a3fa5" fill-opacity="0.9"><rect x="-2.6" y="-21.0" width="5.2" height="5.5" transform="rotate(0)"/><rect x="-2.6" y="-21.0" width="5.2" height="5.5" transform="rotate(30)"/><rect x="-2.6" y="-21.0" width="5.2" height="5.5" transform="rotate(60)"/><rect x="-2.6" y="-21.0" width="5.2" height="5.5" transform="rotate(90)"/><rect x="-2.6" y="-21.0" width="5.2" height="5.5" transform="rotate(120)"/><rect x="-2.6" y="-21.0" width="5.2" height="5.5" transform="rotate(150)"/><rect x="-2.6" y="-21.0" width="5.2" height="5.5" transform="rotate(180)"/><rect x="-2.6" y="-21.0" width="5.2" height="5.5" transform="rotate(210)"/><rect x="-2.6" y="-21.0" width="5.2" height="5.5" transform="rotate(240)"/><rect x="-2.6" y="-21.0" width="5.2" height="5.5" transform="rotate(270)"/><rect x="-2.6" y="-21.0" width="5.2" height="5.5" transform="rotate(300)"/><rect x="-2.6" y="-21.0" width="5.2" height="5.5" transform="rotate(330)"/><circle r="15.2" fill="none" stroke="#5a3fa5" stroke-width="2.4"/><circle r="11.2" fill="none" stroke="#5a3fa5" stroke-width="1.6"/><circle r="5.2" fill="none" stroke="#5a3fa5" stroke-width="2.2"/><rect x="-1.1" y="-11" width="2.2" height="6" transform="rotate(0)"/><rect x="-1.1" y="-11" width="2.2" height="6" transform="rotate(60)"/><rect x="-1.1" y="-11" width="2.2" height="6" transform="rotate(120)"/><rect x="-1.1" y="-11" width="2.2" height="6" transform="rotate(180)"/><rect x="-1.1" y="-11" width="2.2" height="6" transform="rotate(240)"/><rect x="-1.1" y="-11" width="2.2" height="6" transform="rotate(300)"/></g>
<g transform="translate(2121.0,2059.0)" fill="#5a3fa5" fill-opacity="0.9"><rect x="-2.6" y="-21.0" width="5.2" height="5.5" transform="rotate(0)"/><rect x="-2.6" y="-21.0" width="5.2" height="5.5" transform="rotate(30)"/><rect x="-2.6" y="-21.0" width="5.2" height="5.5" transform="rotate(60)"/><rect x="-2.6" y="-21.0" width="5.2" height="5.5" transform="rotate(90)"/><rect x="-2.6" y="-21.0" width="5.2" height="5.5" transform="rotate(120)"/><rect x="-2.6" y="-21.0" width="5.2" height="5.5" transform="rotate(150)"/><rect x="-2.6" y="-21.0" width="5.2" height="5.5" transform="rotate(180)"/><rect x="-2.6" y="-21.0" width="5.2" height="5.5" transform="rotate(210)"/><rect x="-2.6" y="-21.0" width="5.2" height="5.5" transform="rotate(240)"/><rect x="-2.6" y="-21.0" width="5.2" height="5.5" transform="rotate(270)"/><rect x="-2.6" y="-21.0" width="5.2" height="5.5" transform="rotate(300)"/><rect x="-2.6" y="-21.0" width="5.2" height="5.5" transform="rotate(330)"/><circle r="15.2" fill="none" stroke="#5a3fa5" stroke-width="2.4"/><circle r="11.2" fill="none" stroke="#5a3fa5" stroke-width="1.6"/><circle r="5.2" fill="none" stroke="#5a3fa5" stroke-width="2.2"/><rect x="-1.1" y="-11" width="2.2" height="6" transform="rotate(0)"/><rect x="-1.1" y="-11" width="2.2" height="6" transform="rotate(60)"/><rect x="-1.1" y="-11" width="2.2" height="6" transform="rotate(120)"/><rect x="-1.1" y="-11" width="2.2" height="6" transform="rotate(180)"/><rect x="-1.1" y="-11" width="2.2" height="6" transform="rotate(240)"/><rect x="-1.1" y="-11" width="2.2" height="6" transform="rotate(300)"/></g>
<text x="2150.8" y="1974.6" font-size="57.0" textLength="614.5" lengthAdjust="spacingAndGlyphs" fill="#2b2b2b" stroke="#2b2b2b" stroke-width="1.5" stroke-linejoin="round">Опыт работы, получение</text>
<text x="2150.8" y="2024.0" font-size="57.0" textLength="558.1" lengthAdjust="spacingAndGlyphs" fill="#2b2b2b" stroke="#2b2b2b" stroke-width="1.5" stroke-linejoin="round">высшего образования</text>
<text x="2150.8" y="2076.5" font-size="57.0" textLength="636.5" lengthAdjust="spacingAndGlyphs" fill="#2b2b2b" stroke="#2b2b2b" stroke-width="1.5" stroke-linejoin="round">Развитие личного бренда</text>
<text x="2151.0" y="2150.5" font-size="63.0" textLength="551.5" lengthAdjust="spacingAndGlyphs" fill="#51389f" stroke="#51389f" stroke-width="2" stroke-linejoin="round">Ключевые навыки:</text>
<rect x="2150" y="2160.0" width="553.5" height="4" fill="#51389f"/>
<polygon points="2121.0,2166.0 2126.5,2182.4 2143.8,2182.6 2129.9,2192.9 2135.1,2209.4 2121.0,2199.4 2106.9,2209.4 2112.1,2192.9 2098.2,2182.6 2115.5,2182.4" fill="#5a3fa5"/>
<polygon points="2121.0,2287.0 2126.5,2303.4 2143.8,2303.6 2129.9,2313.9 2135.1,2330.4 2121.0,2320.4 2106.9,2330.4 2112.1,2313.9 2098.2,2303.6 2115.5,2303.4" fill="#5a3fa5"/>
<polygon points="2121.0,2404.7 2126.5,2421.1 2143.8,2421.3 2129.9,2431.6 2135.1,2448.1 2121.0,2438.1 2106.9,2448.1 2112.1,2431.6 2098.2,2421.3 2115.5,2421.1" fill="#5a3fa5"/>
<text x="2150.8" y="2211.5" font-size="57.0" textLength="541.5" lengthAdjust="spacingAndGlyphs" fill="#2b2b2b" stroke="#2b2b2b" stroke-width="1.5" stroke-linejoin="round">Составление рабочей</text>
<text x="2150.8" y="2270.7" font-size="57.0" textLength="440.5" lengthAdjust="spacingAndGlyphs" fill="#2b2b2b" stroke="#2b2b2b" stroke-width="1.5" stroke-linejoin="round">документации, ТЗ</text>
<text x="2150.8" y="2330.8" font-size="57.0" textLength="694.0" lengthAdjust="spacingAndGlyphs" fill="#2b2b2b" stroke="#2b2b2b" stroke-width="1.5" stroke-linejoin="round">Навыки общения с рабочей</text>
<text x="2150.8" y="2390.0" font-size="57.0" textLength="232.3" lengthAdjust="spacingAndGlyphs" fill="#2b2b2b" stroke="#2b2b2b" stroke-width="1.5" stroke-linejoin="round">бригадой</text>
<text x="2150.8" y="2449.3" font-size="57.0" textLength="506.5" lengthAdjust="spacingAndGlyphs" fill="#2b2b2b" stroke="#2b2b2b" stroke-width="1.5" stroke-linejoin="round">Разработка дизайна</text>
<text x="2150.8" y="2509.4" font-size="57.0" textLength="227.1" lengthAdjust="spacingAndGlyphs" fill="#2b2b2b" stroke="#2b2b2b" stroke-width="1.5" stroke-linejoin="round">объектов</text>
<text x="2225.4" y="2648.8" font-size="54.5" textLength="511.9" lengthAdjust="spacingAndGlyphs" fill="#5a3fa5" stroke="#5a3fa5" stroke-width="1.8" stroke-linejoin="round">Доход 50 – 90 тыс.руб.</text>
<rect x="2982" y="1882" width="942.8000000000002" height="843.5" rx="113" fill="#fff" fill-opacity="0.22" stroke="#5a3fa5" stroke-width="2.6" stroke-dasharray="12 6.5"/>
<rect x="3030.0" y="1909.0" width="848.6" height="626.5" rx="88.0" fill="#bbbbbb" />
<rect x="3072.0" y="2571.0" width="762.0" height="122.0" rx="50.0" fill="#bcbcbc" />
<g transform="translate(3085.5,2011.0)" fill="#5a3fa5" fill-opacity="0.9"><rect x="-2.6" y="-21.0" width="5.2" height="5.5" transform="rotate(0)"/><rect x="-2.6" y="-21.0" width="5.2" height="5.5" transform="rotate(30)"/><rect x="-2.6" y="-21.0" width="5.2" height="5.5" transform="rotate(60)"/><rect x="-2.6" y="-21.0" width="5.2" height="5.5" transform="rotate(90)"/><rect x="-2.6" y="-21.0" width="5.2" height="5.5" transform="rotate(120)"/><rect x="-2.6" y="-21.0" width="5.2" height="5.5" transform="rotate(150)"/><rect x="-2.6" y="-21.0" width="5.2" height="5.5" transform="rotate(180)"/><rect x="-2.6" y="-21.0" width="5.2" height="5.5" transform="rotate(210)"/><rect x="-2.6" y="-21.0" width="5.2" height="5.5" transform="rotate(240)"/><rect x="-2.6" y="-21.0" width="5.2" height="5.5" transform="rotate(270)"/><rect x="-2.6" y="-21.0" width="5.2" height="5.5" transform="rotate(300)"/><rect x="-2.6" y="-21.0" width="5.2" height="5.5" transform="rotate(330)"/><circle r="15.2" fill="none" stroke="#5a3fa5" stroke-width="2.4"/><circle r="11.2" fill="none" stroke="#5a3fa5" stroke-width="1.6"/><circle r="5.2" fill="none" stroke="#5a3fa5" stroke-width="2.2"/><rect x="-1.1" y="-11" width="2.2" height="6" transform="rotate(0)"/><rect x="-1.1" y="-11" width="2.2" height="6" transform="rotate(60)"/><rect x="-1.1" y="-11" width="2.2" height="6" transform="rotate(120)"/><rect x="-1.1" y="-11" width="2.2" height="6" transform="rotate(180)"/><rect x="-1.1" y="-11" width="2.2" height="6" transform="rotate(240)"/><rect x="-1.1" y="-11" width="2.2" height="6" transform="rotate(300)"/></g>
<g transform="translate(3085.5,2150.5)" fill="#5a3fa5" fill-opacity="0.9"><rect x="-2.6" y="-21.0" width="5.2" height="5.5" transform="rotate(0)"/><rect x="-2.6" y="-21.0" width="5.2" height="5.5" transform="rotate(30)"/><rect x="-2.6" y="-21.0" width="5.2" height="5.5" transform="rotate(60)"/><rect x="-2.6" y="-21.0" width="5.2" height="5.5" transform="rotate(90)"/><rect x="-2.6" y="-21.0" width="5.2" height="5.5" transform="rotate(120)"/><rect x="-2.6" y="-21.0" width="5.2" height="5.5" transform="rotate(150)"/><rect x="-2.6" y="-21.0" width="5.2" height="5.5" transform="rotate(180)"/><rect x="-2.6" y="-21.0" width="5.2" height="5.5" transform="rotate(210)"/><rect x="-2.6" y="-21.0" width="5.2" height="5.5" transform="rotate(240)"/><rect x="-2.6" y="-21.0" width="5.2" height="5.5" transform="rotate(270)"/><rect x="-2.6" y="-21.0" width="5.2" height="5.5" transform="rotate(300)"/><rect x="-2.6" y="-21.0" width="5.2" height="5.5" transform="rotate(330)"/><circle r="15.2" fill="none" stroke="#5a3fa5" stroke-width="2.4"/><circle r="11.2" fill="none" stroke="#5a3fa5" stroke-width="1.6"/><circle r="5.2" fill="none" stroke="#5a3fa5" stroke-width="2.2"/><rect x="-1.1" y="-11" width="2.2" height="6" transform="rotate(0)"/><rect x="-1.1" y="-11" width="2.2" height="6" transform="rotate(60)"/><rect x="-1.1" y="-11" width="2.2" height="6" transform="rotate(120)"/><rect x="-1.1" y="-11" width="2.2" height="6" transform="rotate(180)"/><rect x="-1.1" y="-11" width="2.2" height="6" transform="rotate(240)"/><rect x="-1.1" y="-11" width="2.2" height="6" transform="rotate(300)"/></g>
<text x="3116.2" y="2017.0" font-size="57.0" textLength="728.5" lengthAdjust="spacingAndGlyphs" fill="#2b2b2b" stroke="#2b2b2b" stroke-width="1.5" stroke-linejoin="round">Разработка дизайн-проектов</text>
<text x="3116.2" y="2067.8" font-size="57.0" textLength="451.5" lengthAdjust="spacingAndGlyphs" fill="#2b2b2b" stroke="#2b2b2b" stroke-width="1.5" stroke-linejoin="round">интерьера жилых,</text>
<text x="3116.2" y="2118.0" font-size="57.0" textLength="675.0" lengthAdjust="spacingAndGlyphs" fill="#2b2b2b" stroke="#2b2b2b" stroke-width="1.5" stroke-linejoin="round">общественных помещений</text>
<text x="3116.2" y="2169.7" font-size="57.0" textLength="662.0" lengthAdjust="spacingAndGlyphs" fill="#2b2b2b" stroke="#2b2b2b" stroke-width="1.5" stroke-linejoin="round">Разработка эргономичных</text>
<text x="3116.2" y="2220.0" font-size="57.0" textLength="427.0" lengthAdjust="spacingAndGlyphs" fill="#2b2b2b" stroke="#2b2b2b" stroke-width="1.5" stroke-linejoin="round">дизайн-проектов</text>
<text x="3116.5" y="2285.5" font-size="63.0" textLength="548.5" lengthAdjust="spacingAndGlyphs" fill="#51389f" stroke="#51389f" stroke-width="2" stroke-linejoin="round">Ключевые навыки:</text>
<rect x="3115.5" y="2295.0" width="550.5" height="4" fill="#51389f"/>
<polygon points="3085.5,2301.0 3091.0,2317.4 3108.3,2317.6 3094.4,2327.9 3099.6,2344.4 3085.5,2334.4 3071.4,2344.4 3076.6,2327.9 3062.7,2317.6 3080.0,2317.4" fill="#5a3fa5"/>
<polygon points="3085.5,2420.0 3091.0,2436.4 3108.3,2436.6 3094.4,2446.9 3099.6,2463.4 3085.5,2453.4 3071.4,2463.4 3076.6,2446.9 3062.7,2436.6 3080.0,2436.4" fill="#5a3fa5"/>
<text x="3116.2" y="2344.8" font-size="57.0" textLength="727.6" lengthAdjust="spacingAndGlyphs" fill="#2b2b2b" stroke="#2b2b2b" stroke-width="1.5" stroke-linejoin="round">Знать типы зданий и условия</text>
<text x="3116.2" y="2405.0" font-size="57.0" textLength="409.7" lengthAdjust="spacingAndGlyphs" fill="#2b2b2b" stroke="#2b2b2b" stroke-width="1.5" stroke-linejoin="round">их эксплуатации</text>
<text x="3116.2" y="2464.0" font-size="57.0" textLength="653.6" lengthAdjust="spacingAndGlyphs" fill="#2b2b2b" stroke="#2b2b2b" stroke-width="1.5" stroke-linejoin="round">Знать ГОСТы, СНИПы и т.д.</text>
<text x="3188.0" y="2648.8" font-size="54.5" textLength="529.3" lengthAdjust="spacingAndGlyphs" fill="#5a3fa5" stroke="#5a3fa5" stroke-width="1.8" stroke-linejoin="round">Доход 90 – 150 тыс.руб.</text>
<rect x="3958" y="1881.6" width="943.6999999999998" height="843.8000000000002" rx="113" fill="#fff" fill-opacity="0.22" stroke="#5a3fa5" stroke-width="2.6" stroke-dasharray="12 6.5"/>
<rect x="4007.0" y="1908.0" width="847.6" height="628.0" rx="88.0" fill="#bbbbbb" />
<rect x="4048.0" y="2570.0" width="762.0" height="122.0" rx="50.0" fill="#bcbcbc" />
<g transform="translate(4075.5,1964.7)" fill="#5a3fa5" fill-opacity="0.9"><rect x="-2.6" y="-21.0" width="5.2" height="5.5" transform="rotate(0)"/><rect x="-2.6" y="-21.0" width="5.2" height="5.5" transform="rotate(30)"/><rect x="-2.6" y="-21.0" width="5.2" height="5.5" transform="rotate(60)"/><rect x="-2.6" y="-21.0" width="5.2" height="5.5" transform="rotate(90)"/><rect x="-2.6" y="-21.0" width="5.2" height="5.5" transform="rotate(120)"/><rect x="-2.6" y="-21.0" width="5.2" height="5.5" transform="rotate(150)"/><rect x="-2.6" y="-21.0" width="5.2" height="5.5" transform="rotate(180)"/><rect x="-2.6" y="-21.0" width="5.2" height="5.5" transform="rotate(210)"/><rect x="-2.6" y="-21.0" width="5.2" height="5.5" transform="rotate(240)"/><rect x="-2.6" y="-21.0" width="5.2" height="5.5" transform="rotate(270)"/><rect x="-2.6" y="-21.0" width="5.2" height="5.5" transform="rotate(300)"/><rect x="-2.6" y="-21.0" width="5.2" height="5.5" transform="rotate(330)"/><circle r="15.2" fill="none" stroke="#5a3fa5" stroke-width="2.4"/><circle r="11.2" fill="none" stroke="#5a3fa5" stroke-width="1.6"/><circle r="5.2" fill="none" stroke="#5a3fa5" stroke-width="2.2"/><rect x="-1.1" y="-11" width="2.2" height="6" transform="rotate(0)"/><rect x="-1.1" y="-11" width="2.2" height="6" transform="rotate(60)"/><rect x="-1.1" y="-11" width="2.2" height="6" transform="rotate(120)"/><rect x="-1.1" y="-11" width="2.2" height="6" transform="rotate(180)"/><rect x="-1.1" y="-11" width="2.2" height="6" transform="rotate(240)"/><rect x="-1.1" y="-11" width="2.2" height="6" transform="rotate(300)"/></g>
<g transform="translate(4075.5,2114.0)" fill="#5a3fa5" fill-opacity="0.9"><rect x="-2.6" y="-21.0" width="5.2" height="5.5" transform="rotate(0)"/><rect x="-2.6" y="-21.0" width="5.2" height="5.5" transform="rotate(30)"/><rect x="-2.6" y="-21.0" width="5.2" height="5.5" transform="rotate(60)"/><rect x="-2.6" y="-21.0" width="5.2" height="5.5" transform="rotate(90)"/><rect x="-2.6" y="-21.0" width="5.2" height="5.5" transform="rotate(120)"/><rect x="-2.6" y="-21.0" width="5.2" height="5.5" transform="rotate(150)"/><rect x="-2.6" y="-21.0" width="5.2" height="5.5" transform="rotate(180)"/><rect x="-2.6" y="-21.0" width="5.2" height="5.5" transform="rotate(210)"/><rect x="-2.6" y="-21.0" width="5.2" height="5.5" transform="rotate(240)"/><rect x="-2.6" y="-21.0" width="5.2" height="5.5" transform="rotate(270)"/><rect x="-2.6" y="-21.0" width="5.2" height="5.5" transform="rotate(300)"/><rect x="-2.6" y="-21.0" width="5.2" height="5.5" transform="rotate(330)"/><circle r="15.2" fill="none" stroke="#5a3fa5" stroke-width="2.4"/><circle r="11.2" fill="none" stroke="#5a3fa5" stroke-width="1.6"/><circle r="5.2" fill="none" stroke="#5a3fa5" stroke-width="2.2"/><rect x="-1.1" y="-11" width="2.2" height="6" transform="rotate(0)"/><rect x="-1.1" y="-11" width="2.2" height="6" transform="rotate(60)"/><rect x="-1.1" y="-11" width="2.2" height="6" transform="rotate(120)"/><rect x="-1.1" y="-11" width="2.2" height="6" transform="rotate(180)"/><rect x="-1.1" y="-11" width="2.2" height="6" transform="rotate(240)"/><rect x="-1.1" y="-11" width="2.2" height="6" transform="rotate(300)"/></g>
<text x="4111.2" y="1983.0" font-size="57.0" textLength="645.0" lengthAdjust="spacingAndGlyphs" fill="#2b2b2b" stroke="#2b2b2b" stroke-width="1.5" stroke-linejoin="round">Формировать вокруг себя</text>
<text x="4111.2" y="2034.0" font-size="57.0" textLength="561.0" lengthAdjust="spacingAndGlyphs" fill="#2b2b2b" stroke="#2b2b2b" stroke-width="1.5" stroke-linejoin="round">команду дизайнеров и</text>
<text x="4111.2" y="2084.4" font-size="57.0" textLength="638.4" lengthAdjust="spacingAndGlyphs" fill="#2b2b2b" stroke="#2b2b2b" stroke-width="1.5" stroke-linejoin="round">развиваться вместе с ней</text>
<text x="4111.2" y="2135.4" font-size="57.0" textLength="548.0" lengthAdjust="spacingAndGlyphs" fill="#2b2b2b" stroke="#2b2b2b" stroke-width="1.5" stroke-linejoin="round">Управление рабочими</text>
<text x="4111.2" y="2186.3" font-size="57.0" textLength="662.0" lengthAdjust="spacingAndGlyphs" fill="#2b2b2b" stroke="#2b2b2b" stroke-width="1.5" stroke-linejoin="round">процессами специалистов</text>
<text x="4111.5" y="2257.0" font-size="63.0" textLength="547.5" lengthAdjust="spacingAndGlyphs" fill="#51389f" stroke="#51389f" stroke-width="2" stroke-linejoin="round">Ключевые навыки:</text>
<rect x="4110.5" y="2267.5" width="549.5" height="4" fill="#51389f"/>
<polygon points="4075.5,2275.6 4081.0,2292.0 4098.3,2292.2 4084.4,2302.5 4089.6,2319.0 4075.5,2309.0 4061.4,2319.0 4066.6,2302.5 4052.7,2292.2 4070.0,2292.0" fill="#5a3fa5"/>
<polygon points="4075.5,2447.0 4081.0,2463.4 4098.3,2463.6 4084.4,2473.9 4089.6,2490.4 4075.5,2480.4 4061.4,2490.4 4066.6,2473.9 4052.7,2463.6 4070.0,2463.4" fill="#5a3fa5"/>
<text x="4111.2" y="2317.0" font-size="57.0" textLength="544.0" lengthAdjust="spacingAndGlyphs" fill="#2b2b2b" stroke="#2b2b2b" stroke-width="1.5" stroke-linejoin="round">Изучать кейсы других</text>
<text x="4111.2" y="2376.3" font-size="57.0" textLength="674.4" lengthAdjust="spacingAndGlyphs" fill="#2b2b2b" stroke="#2b2b2b" stroke-width="1.5" stroke-linejoin="round">участников рынка, следить</text>
<text x="4111.2" y="2434.5" font-size="57.0" textLength="303.0" lengthAdjust="spacingAndGlyphs" fill="#2b2b2b" stroke="#2b2b2b" stroke-width="1.5" stroke-linejoin="round">за трендами</text>
<text x="4111.2" y="2494.3" font-size="57.0" textLength="504.0" lengthAdjust="spacingAndGlyphs" fill="#2b2b2b" stroke="#2b2b2b" stroke-width="1.5" stroke-linejoin="round">Управлять командой</text>
<text x="4164.0" y="2649.4" font-size="54.5" textLength="552.0" lengthAdjust="spacingAndGlyphs" fill="#5a3fa5" stroke="#5a3fa5" stroke-width="1.8" stroke-linejoin="round">Доход 150 – 350 тыс.руб.</text>
<rect x="111.0" y="2775.5" width="1404.0" height="112.1" rx="56.0" fill="#5a3fa5" />
<text x="186.8" y="2852.5" font-size="61.0" textLength="1263.8" lengthAdjust="spacingAndGlyphs" font-weight="700" fill="#fff" stroke="#fff" stroke-width="2" stroke-linejoin="round">МЕРЫ ПОДДЕРЖКИ ОТ РАБОТОДАТЕЛЯ И РЕГИОНА</text>
<circle cx="148.3" cy="2929.5" r="17" fill="#5a3fa5"/>
<circle cx="148.3" cy="2991.8" r="17" fill="#5a3fa5"/>
<circle cx="148.3" cy="3053.0" r="17" fill="#5a3fa5"/>
<circle cx="148.3" cy="3170.7" r="17" fill="#5a3fa5"/>
<text x="195.1" y="2950.0" font-size="51.0" textLength="898.6" lengthAdjust="spacingAndGlyphs" fill="#2b2b2b" stroke="#2b2b2b" stroke-width="0.6" stroke-linejoin="round">Прохождение производственной практики</text>
<text x="195.1" y="3010.0" font-size="51.0" textLength="1236.0" lengthAdjust="spacingAndGlyphs" fill="#2b2b2b" stroke="#2b2b2b" stroke-width="0.6" stroke-linejoin="round">Возможность полного трудоустройства во время обучения</text>
<text x="195.1" y="3071.0" font-size="51.0" textLength="1159.0" lengthAdjust="spacingAndGlyphs" fill="#2b2b2b" stroke="#2b2b2b" stroke-width="0.6" stroke-linejoin="round">Возможность дополнительного обучения и повышения</text>
<text x="195.1" y="3127.7" font-size="51.0" textLength="306.3" lengthAdjust="spacingAndGlyphs" fill="#2b2b2b" stroke="#2b2b2b" stroke-width="0.6" stroke-linejoin="round">квалификации</text>
<text x="195.1" y="3186.5" font-size="51.0" textLength="1435.3" lengthAdjust="spacingAndGlyphs" fill="#2b2b2b" stroke="#2b2b2b" stroke-width="0.6" stroke-linejoin="round">Организация ярмарок вакансий, дней карьеры, презентация студий</text>
<rect x="1787.0" y="2774.0" width="738.0" height="112.5" rx="56.0" fill="#5a3fa5" />
<text x="1841.0" y="2850.0" font-size="61.0" textLength="631.0" lengthAdjust="spacingAndGlyphs" font-weight="700" fill="#fff" stroke="#fff" stroke-width="2" stroke-linejoin="round">КАЧЕСТВО ОБРАЗОВАНИЯ</text>
<circle cx="1831.0" cy="2940.8" r="17" fill="#5a3fa5"/>
<circle cx="1831.0" cy="3054.0" r="17" fill="#5a3fa5"/>
<circle cx="1831.0" cy="3114.0" r="17" fill="#5a3fa5"/>
<text x="1876.7" y="2960.0" font-size="51.0" textLength="1161.0" lengthAdjust="spacingAndGlyphs" fill="#2b2b2b" stroke="#2b2b2b" stroke-width="0.6" stroke-linejoin="round">70%  практического обучения проходит в современных</text>
<text x="1876.7" y="3016.7" font-size="51.0" textLength="1236.0" lengthAdjust="spacingAndGlyphs" fill="#2b2b2b" stroke="#2b2b2b" stroke-width="0.6" stroke-linejoin="round">лабораториях, созданных в рамках ФП Профессионалитет</text>
<text x="1876.7" y="3074.4" font-size="51.0" textLength="832.0" lengthAdjust="spacingAndGlyphs" fill="#2b2b2b" stroke="#2b2b2b" stroke-width="0.6" stroke-linejoin="round">Получение дополнительной профессии</text>
<text x="1876.7" y="3134.5" font-size="51.0" textLength="1165.4" lengthAdjust="spacingAndGlyphs" fill="#2b2b2b" stroke="#2b2b2b" stroke-width="0.6" stroke-linejoin="round">Практическая подготовка у индустриальных партнёров</text>
<g transform="translate(1540,3230) scale(0.12314)"><defs><linearGradient id="wl" x1="0" y1="0" x2="1" y2="0"><stop offset="0" stop-color="#651ba3"/><stop offset="1" stop-color="#9650cb"/></linearGradient><radialGradient id="coin" cx="0.45" cy="0.4" r="0.6"><stop offset="0" stop-color="#fdeaa0"/><stop offset="0.7" stop-color="#f7ce55"/><stop offset="1" stop-color="#e9a93a"/></radialGradient></defs><g transform="translate(248,452) rotate(0)"><ellipse rx="110" ry="110" cy="10" fill="#e39a4e"/><ellipse rx="110" ry="110" fill="url(#coin)"/><ellipse rx="86" ry="86" fill="none" stroke="#eeb23f" stroke-width="8"/><text x="0" y="46" text-anchor="middle" font-size="138" font-weight="700" fill="#f1b744" transform="scale(1.00,1)">$</text></g><g transform="translate(675,315) rotate(0)"><ellipse rx="106" ry="106" cy="10" fill="#e39a4e"/><ellipse rx="106" ry="106" fill="url(#coin)"/><ellipse rx="83" ry="83" fill="none" stroke="#eeb23f" stroke-width="8"/><text x="0" y="45" text-anchor="middle" font-size="132" font-weight="700" fill="#f1b744" transform="scale(1.00,1)">$</text></g><g transform="translate(1495,448) rotate(0)"><ellipse rx="115" ry="115" cy="10" fill="#e39a4e"/><ellipse rx="115" ry="115" fill="url(#coin)"/><ellipse rx="90" ry="90" fill="none" stroke="#eeb23f" stroke-width="8"/><text x="0" y="48" text-anchor="middle" font-size="144" font-weight="700" fill="#f1b744" transform="scale(1.00,1)">$</text></g><g transform="translate(352,1150) rotate(22)"><ellipse rx="112" ry="72" cy="10" fill="#e39a4e"/><ellipse rx="112" ry="72" fill="url(#coin)"/><ellipse rx="87" ry="56" fill="none" stroke="#eeb23f" stroke-width="8"/><text x="0" y="30" text-anchor="middle" font-size="90" font-weight="700" fill="#f1b744" transform="scale(1.56,1)">$</text></g><g transform="translate(1190,1280) rotate(0)"><ellipse rx="112" ry="112" cy="10" fill="#e39a4e"/><ellipse rx="112" ry="112" fill="url(#coin)"/><ellipse rx="87" ry="87" fill="none" stroke="#eeb23f" stroke-width="8"/><text x="0" y="47" text-anchor="middle" font-size="140" font-weight="700" fill="#f1b744" transform="scale(1.00,1)">$</text></g><path d="M700 345 L1165 280 L1235 298 L1242 575 L720 575 Z" fill="#7fc71f"/><path d="M1165 280 L1235 298 L1240 420 L1180 400 Z" fill="#6ab512"/><path d="M700 405 L1030 365 C1050 400 1060 430 1095 470 L800 580 L712 580 Z" fill="#c4e874"/><path d="M880 505 L1395 468 Q1425 468 1427 500 L1442 885 Q1440 915 1410 918 L1240 935 L860 720 L858 530 Q860 508 880 505 Z" fill="#ee6e70"/><path d="M860 585 L1418 545 L1422 610 L862 650 Z" fill="#f0e8e2"/><path d="M1160 392 Q1185 380 1200 402 L1405 725 Q1415 745 1400 760 L1240 915 L935 612 Z" fill="#f3c25f"/><path d="M1150 600 L1225 540 L1248 577 L1172 637 Z M1200 652 L1262 610 L1292 665 L1230 707 Z M1100 655 L1140 628 L1160 665 L1120 690 Z" fill="#f3ede4"/><path d="M640 528 Q615 525 608 555 L520 1115 Q515 1150 545 1165 L1070 1330 Q1125 1345 1145 1295 L1245 790 Q1255 725 1190 700 Z" fill="url(#wl)"/><path d="M650 585 L1110 725 Q1165 745 1158 800 L1075 1240 Q1065 1285 1020 1272 L565 1120" fill="none" stroke="#efe6f7" stroke-width="9" stroke-dasharray="34 22"/><path d="M975 905 L1285 958 Q1310 965 1305 995 L1285 1090 Q1275 1135 1225 1128 L1000 1078 Q940 1060 940 1000 Q935 905 975 905 Z" fill="#8e37d3"/><circle cx="985" cy="985" r="40" fill="#e8e2ef"/></g>
<text x="1737.0" y="3349.0" font-size="46.5" textLength="1145.0" lengthAdjust="spacingAndGlyphs" fill="#333" stroke="#333" stroke-width="1.3" stroke-linejoin="round">СРЕДНЯЯ ЗАРАБОТНАЯ ПЛАТА ПО РЕСПУБЛИКЕ БАШКОРТОСТАН</text>
<text x="2896.6" y="3349.0" font-size="49.0" textLength="328.0" lengthAdjust="spacingAndGlyphs" fill="#333" stroke="#333" stroke-width="0.6" stroke-linejoin="round">75 тысяч рублей</text>
<g transform="translate(3240,2750) scale(0.09235)"><defs><linearGradient id="gr" gradientUnits="userSpaceOnUse" x1="270" y1="0" x2="1490" y2="0"><stop offset="0" stop-color="#ff7400"/><stop offset="1" stop-color="#ffc505"/></linearGradient></defs><rect x="306" y="1051" width="158" height="203" rx="40" fill="none" stroke="url(#gr)" stroke-width="62" stroke-linecap="round" stroke-linejoin="round"/><rect x="631" y="886" width="163" height="368" rx="40" fill="none" stroke="url(#gr)" stroke-width="62" stroke-linecap="round" stroke-linejoin="round"/><rect x="961" y="721" width="163" height="533" rx="40" fill="none" stroke="url(#gr)" stroke-width="62" stroke-linecap="round" stroke-linejoin="round"/><rect x="1291" y="556" width="158" height="698" rx="40" fill="none" stroke="url(#gr)" stroke-width="62" stroke-linecap="round" stroke-linejoin="round"/><path d="M302 1380 H1452" fill="none" stroke="url(#gr)" stroke-width="62" stroke-linecap="round" stroke-linejoin="round"/><path d="M385 805 C700 730 1050 560 1350 250 M1208 226 H1376 V394" fill="none" stroke="url(#gr)" stroke-width="62" stroke-linecap="round" stroke-linejoin="round"/></g>
<rect x="3410.0" y="2773.6" width="719.0" height="111.4" rx="56.0" fill="#e8850f" />
<text x="3457.0" y="2850.8" font-size="61.0" textLength="619.8" lengthAdjust="spacingAndGlyphs" font-weight="700" fill="#fff" stroke="#fff" stroke-width="2" stroke-linejoin="round">ГОРИЗОНТАЛЬНЫЙ РОСТ</text>
<circle cx="3476.5" cy="2934.4" r="17" fill="#5a3fa5"/>
<text x="3521.5" y="2953.7" font-size="51.0" textLength="277.5" lengthAdjust="spacingAndGlyphs" fill="#2b2b2b" stroke="#2b2b2b" stroke-width="0.6" stroke-linejoin="round">Визуализатор</text>
<circle cx="3476.5" cy="2994.4" r="17" fill="#5a3fa5"/>
<text x="3525.8" y="3011.6" font-size="51.0" textLength="449.2" lengthAdjust="spacingAndGlyphs" fill="#2b2b2b" stroke="#2b2b2b" stroke-width="0.6" stroke-linejoin="round">Ювелирный моделлер</text>
<circle cx="3476.5" cy="3055.5" r="17" fill="#5a3fa5"/>
<text x="3521.5" y="3071.6" font-size="51.0" textLength="372.0" lengthAdjust="spacingAndGlyphs" fill="#2b2b2b" stroke="#2b2b2b" stroke-width="0.6" stroke-linejoin="round">Дизайнер одежды</text>
<circle cx="3476.5" cy="3110.0" r="17" fill="#5a3fa5"/>
<text x="3521.5" y="3127.3" font-size="51.0" textLength="497.5" lengthAdjust="spacingAndGlyphs" fill="#2b2b2b" stroke="#2b2b2b" stroke-width="0.6" stroke-linejoin="round">Ландшафтный дизайнер</text>
<circle cx="3476.5" cy="3161.6" r="17" fill="#5a3fa5"/>
<text x="3521.5" y="3178.8" font-size="51.0" textLength="436.3" lengthAdjust="spacingAndGlyphs" fill="#2b2b2b" stroke="#2b2b2b" stroke-width="0.6" stroke-linejoin="round">Архитектор-дизайнер</text>
<circle cx="3476.5" cy="3216.3" r="17" fill="#5a3fa5"/>
<text x="3521.5" y="3234.5" font-size="51.0" textLength="198.3" lengthAdjust="spacingAndGlyphs" fill="#2b2b2b" stroke="#2b2b2b" stroke-width="0.6" stroke-linejoin="round">3D-риггер</text>
<circle cx="3476.5" cy="3270.0" r="17" fill="#5a3fa5"/>
<text x="3521.5" y="3288.0" font-size="51.0" textLength="213.3" lengthAdjust="spacingAndGlyphs" fill="#2b2b2b" stroke="#2b2b2b" stroke-width="0.6" stroke-linejoin="round">Декоратор</text>
<circle cx="3476.5" cy="3327.8" r="17" fill="#5a3fa5"/>
<text x="3521.5" y="3345.0" font-size="51.0" textLength="558.5" lengthAdjust="spacingAndGlyphs" fill="#2b2b2b" stroke="#2b2b2b" stroke-width="0.6" stroke-linejoin="round">Дизайнер городской среды</text>
<g transform="translate(4300,2780) scale(0.3819)">
<path d="M802.0 530.0 L802.0 325.0" stroke="#111" stroke-width="6" fill="none"/>
<path d="M1024.7 622.3 L1169.7 477.3" stroke="#111" stroke-width="6" fill="none"/>
<path d="M1117.0 845.0 L1322.0 845.0" stroke="#111" stroke-width="6" fill="none"/>
<path d="M1024.7 1067.7 L1169.7 1212.7" stroke="#111" stroke-width="6" fill="none"/>
<path d="M802.0 1160.0 L802.0 1365.0" stroke="#111" stroke-width="6" fill="none"/>
<path d="M579.3 1067.7 L434.3 1212.7" stroke="#111" stroke-width="6" fill="none"/>
<path d="M487.0 845.0 L282.0 845.0" stroke="#111" stroke-width="6" fill="none"/>
<path d="M579.3 622.3 L434.3 477.3" stroke="#111" stroke-width="6" fill="none"/>
<path d="M563 517 C560 450 610 398 697 398 C700 470 650 520 563 517 Z" fill="#6fb28f"/>
<path d="M932 392 C900 420 890 470 925 500 L935 520 C985 540 1030 500 1025 455 L1045 452 C1040 410 1000 385 945 405 Z" fill="#5c6f97"/>
<path fill-rule="evenodd" fill="#a795fb" d="M1195 610 C1240 610 1270 645 1270 680 C1270 705 1252 720 1228 720 C1212 720 1202 726 1204 736 C1207 748 1210 752 1203 757 C1197 761 1188 760 1180 760 C1150 758 1120 730 1120 688 C1120 645 1150 610 1195 610 Z M1172 630 a13 13 0 1 0 0.1 0 Z M1214 630 a13 13 0 1 0 0.1 0 Z M1150 663 a11 11 0 1 0 0.1 0 Z M1238 663 a11 11 0 1 0 0.1 0 Z"/>
<rect x="1168" y="962" width="82" height="82" fill="none" stroke="#111" stroke-width="9"/><rect x="1166.0" y="925" width="8" height="28" fill="#111"/><rect x="1166.0" y="1052" width="8" height="28" fill="#111"/><rect x="1130" y="960.0" width="28" height="8" fill="#111"/><rect x="1259" y="960.0" width="28" height="8" fill="#111"/><rect x="1181.5" y="925" width="8" height="28" fill="#111"/><rect x="1181.5" y="1052" width="8" height="28" fill="#111"/><rect x="1130" y="975.5" width="28" height="8" fill="#111"/><rect x="1259" y="975.5" width="28" height="8" fill="#111"/><rect x="1197.0" y="925" width="8" height="28" fill="#111"/><rect x="1197.0" y="1052" width="8" height="28" fill="#111"/><rect x="1130" y="991.0" width="28" height="8" fill="#111"/><rect x="1259" y="991.0" width="28" height="8" fill="#111"/><rect x="1212.5" y="925" width="8" height="28" fill="#111"/><rect x="1212.5" y="1052" width="8" height="28" fill="#111"/><rect x="1130" y="1006.5" width="28" height="8" fill="#111"/><rect x="1259" y="1006.5" width="28" height="8" fill="#111"/><rect x="1228.0" y="925" width="8" height="28" fill="#111"/><rect x="1228.0" y="1052" width="8" height="28" fill="#111"/><rect x="1130" y="1022.0" width="28" height="8" fill="#111"/><rect x="1259" y="1022.0" width="28" height="8" fill="#111"/><rect x="1243.5" y="925" width="8" height="28" fill="#111"/><rect x="1243.5" y="1052" width="8" height="28" fill="#111"/><rect x="1130" y="1037.5" width="28" height="8" fill="#111"/><rect x="1259" y="1037.5" width="28" height="8" fill="#111"/>
<path d="M948 1150 H970 V1168 H985 V1185 H998 V1222 L1015 1232 L1000 1272 L958 1293 L916 1272 L902 1232 L920 1222 V1185 H933 V1168 H948 Z" fill="#5373c5"/>
<circle cx="644" cy="1225" r="54" fill="none" stroke="#34559a" stroke-width="26"/><circle cx="644" cy="1225" r="18" fill="#34559a"/>
<path d="M372 948 C380 990 428 1010 428 1060 C428 1095 405 1113 375 1113 C368 1113 362 1112 357 1110 C355 1080 375 1060 395 1025 C380 1040 350 1070 350 1105 C330 1095 318 1075 318 1050 C318 1005 360 990 372 948 Z" fill="#e16f74"/>
<rect x="298" y="637" width="152" height="106" rx="26" fill="#4a7fa3"/><rect x="362" y="740" width="24" height="12" fill="#4a7fa3"/><rect x="328" y="750" width="92" height="10" rx="5" fill="#4a7fa3"/>
</g>
<text transform="translate(4606.3,3102.7) rotate(-41.22) translate(0,-254.5) scale(1.36,1)" x="0" y="0" text-anchor="middle" font-size="42" font-weight="700" fill="#000" stroke="#000" stroke-width="1.8">П</text>
<text transform="translate(4606.3,3102.7) rotate(-32.39) translate(0,-254.5) scale(1.36,1)" x="0" y="0" text-anchor="middle" font-size="42" font-weight="700" fill="#000" stroke="#000" stroke-width="1.8">Р</text>
<text transform="translate(4606.3,3102.7) rotate(-23.18) translate(0,-254.5) scale(1.36,1)" x="0" y="0" text-anchor="middle" font-size="42" font-weight="700" fill="#000" stroke="#000" stroke-width="1.8">О</text>
<text transform="translate(4606.3,3102.7) rotate(-12.79) translate(0,-254.5) scale(1.36,1)" x="0" y="0" text-anchor="middle" font-size="42" font-weight="700" fill="#000" stroke="#000" stroke-width="1.8">Ф</text>
<text transform="translate(4606.3,3102.7) rotate(-3.10) translate(0,-254.5) scale(1.36,1)" x="0" y="0" text-anchor="middle" font-size="42" font-weight="700" fill="#000" stroke="#000" stroke-width="1.8">Е</text>
<text transform="translate(4606.3,3102.7) rotate(5.75) translate(0,-254.5) scale(1.36,1)" x="0" y="0" text-anchor="middle" font-size="42" font-weight="700" fill="#000" stroke="#000" stroke-width="1.8">С</text>
<text transform="translate(4606.3,3102.7) rotate(14.95) translate(0,-254.5) scale(1.36,1)" x="0" y="0" text-anchor="middle" font-size="42" font-weight="700" fill="#000" stroke="#000" stroke-width="1.8">С</text>
<text transform="translate(4606.3,3102.7) rotate(24.13) translate(0,-254.5) scale(1.36,1)" x="0" y="0" text-anchor="middle" font-size="42" font-weight="700" fill="#000" stroke="#000" stroke-width="1.8">И</text>
<text transform="translate(4606.3,3102.7) rotate(33.67) translate(0,-254.5) scale(1.36,1)" x="0" y="0" text-anchor="middle" font-size="42" font-weight="700" fill="#000" stroke="#000" stroke-width="1.8">О</text>
<text transform="translate(4606.3,3102.7) rotate(43.23) translate(0,-254.5) scale(1.36,1)" x="0" y="0" text-anchor="middle" font-size="42" font-weight="700" fill="#000" stroke="#000" stroke-width="1.8">Н</text>
<text transform="translate(4606.3,3102.7) rotate(52.43) translate(0,-254.5) scale(1.36,1)" x="0" y="0" text-anchor="middle" font-size="42" font-weight="700" fill="#000" stroke="#000" stroke-width="1.8">А</text>
<text transform="translate(4606.3,3102.7) rotate(61.50) translate(0,-254.5) scale(1.36,1)" x="0" y="0" text-anchor="middle" font-size="42" font-weight="700" fill="#000" stroke="#000" stroke-width="1.8">Л</text>
<text transform="translate(4606.3,3102.7) rotate(70.55) translate(0,-254.5) scale(1.36,1)" x="0" y="0" text-anchor="middle" font-size="42" font-weight="700" fill="#000" stroke="#000" stroke-width="1.8">И</text>
<text transform="translate(4606.3,3102.7) rotate(79.02) translate(0,-254.5) scale(1.36,1)" x="0" y="0" text-anchor="middle" font-size="42" font-weight="700" fill="#000" stroke="#000" stroke-width="1.8">Т</text>
<text transform="translate(4606.3,3102.7) rotate(87.17) translate(0,-254.5) scale(1.36,1)" x="0" y="0" text-anchor="middle" font-size="42" font-weight="700" fill="#000" stroke="#000" stroke-width="1.8">Е</text>
<text transform="translate(4606.3,3102.7) rotate(95.31) translate(0,-254.5) scale(1.36,1)" x="0" y="0" text-anchor="middle" font-size="42" font-weight="700" fill="#000" stroke="#000" stroke-width="1.8">Т</text>
<text x="4567.3" y="3142" font-size="113" textLength="86.7" lengthAdjust="spacingAndGlyphs" font-weight="200" fill="#000" stroke="#000" stroke-width="1.8" font-family='"DejaVu Sans Light","DejaVu Sans",sans-serif'>2024</text>
</svg>
</body></html>
